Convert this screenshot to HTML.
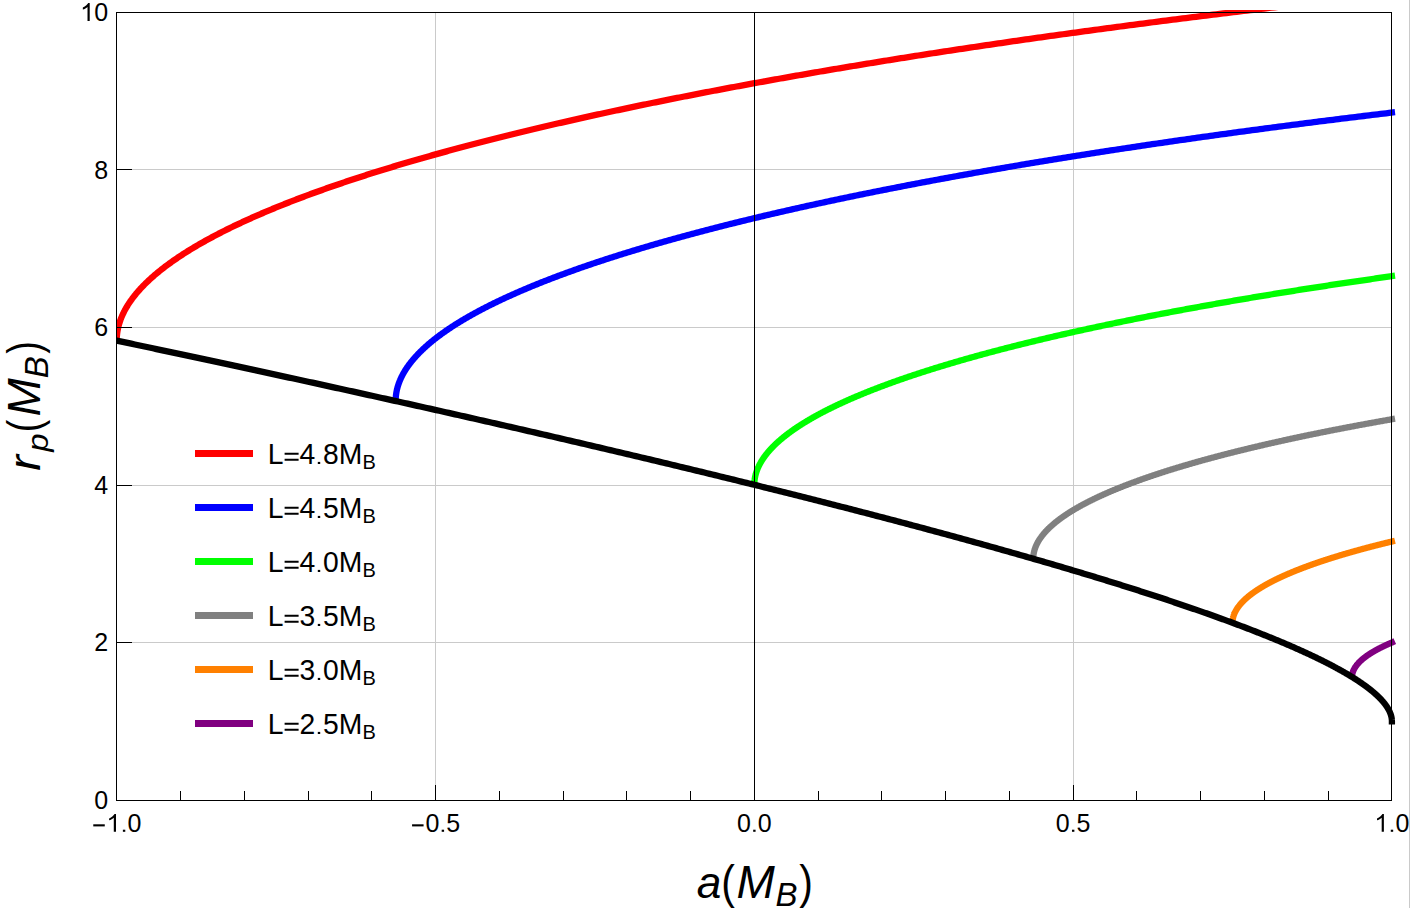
<!DOCTYPE html>
<html><head><meta charset="utf-8"><style>
html,body{margin:0;padding:0;background:#fff;}
body{width:1410px;height:908px;overflow:hidden;position:relative;}
svg{position:absolute;left:0;top:0;}
text{font-family:"Liberation Sans",sans-serif;fill:#000;}
#edge{position:absolute;left:1409px;top:0;width:1px;height:908px;background:#cacaca;}
</style></head><body>
<svg width="1410" height="908" viewBox="0 0 1410 908">
<rect x="117" y="169" width="1274" height="1" fill="#cacaca"/>
<rect x="117" y="327" width="1274" height="1" fill="#cacaca"/>
<rect x="117" y="485" width="1274" height="1" fill="#cacaca"/>
<rect x="117" y="642" width="1274" height="1" fill="#cacaca"/>
<rect x="435" y="13" width="1" height="787" fill="#cacaca"/>
<rect x="1073" y="13" width="1" height="787" fill="#cacaca"/>
<defs><clipPath id="c"><rect x="116" y="10" width="1300" height="900"/></clipPath></defs>
<g clip-path="url(#c)" fill="none" stroke-width="6.3" stroke-linejoin="round" stroke-linecap="square">
<path d="M116.75,338.13 L116.76,338.07 L116.77,337.9 L116.78,337.64 L116.8,337.31 L116.82,336.93 L116.85,336.52 L116.88,336.07 L116.92,335.61 L116.97,335.13 L117.02,334.64 L117.07,334.14 L117.13,333.64 L117.19,333.13 L117.27,332.61 L117.34,332.1 L117.42,331.57 L117.51,331.05 L117.6,330.53 L117.69,330 L117.8,329.47 L117.9,328.94 L118.01,328.41 L118.13,327.87 L118.25,327.34 L118.38,326.81 L118.51,326.27 L118.65,325.73 L118.8,325.2 L118.94,324.66 L119.1,324.12 L119.26,323.59 L119.42,323.05 L119.59,322.51 L119.76,321.97 L119.94,321.43 L120.13,320.89 L120.32,320.36 L120.51,319.82 L120.71,319.28 L120.92,318.74 L121.13,318.2 L121.35,317.66 L121.57,317.12 L121.79,316.58 L122.02,316.04 L122.26,315.5 L122.5,314.95 L122.75,314.41 L123,313.87 L123.26,313.33 L123.52,312.79 L123.79,312.25 L124.06,311.71 L124.34,311.17 L124.63,310.63 L124.92,310.09 L125.21,309.54 L125.51,309 L125.81,308.46 L126.12,307.92 L126.44,307.38 L126.76,306.84 L127.08,306.3 L127.41,305.76 L127.75,305.21 L128.09,304.67 L128.44,304.13 L128.79,303.59 L129.14,303.05 L129.51,302.51 L129.87,301.97 L130.25,301.43 L130.62,300.88 L131.01,300.34 L131.39,299.8 L131.79,299.26 L132.18,298.72 L132.59,298.18 L133,297.64 L133.41,297.1 L133.83,296.55 L134.25,296.01 L134.68,295.47 L135.12,294.93 L135.56,294.39 L136,293.85 L136.45,293.31 L136.91,292.77 L137.37,292.23 L137.83,291.69 L138.3,291.14 L138.78,290.6 L139.26,290.06 L139.75,289.52 L140.24,288.98 L140.74,288.44 L141.24,287.9 L141.75,287.36 L142.26,286.82 L142.78,286.28 L143.3,285.74 L143.83,285.2 L144.36,284.66 L144.9,284.12 L145.45,283.58 L145.99,283.04 L146.55,282.5 L147.11,281.96 L147.67,281.42 L148.24,280.88 L148.82,280.34 L149.4,279.8 L149.98,279.26 L150.57,278.72 L151.17,278.18 L151.77,277.64 L152.38,277.1 L152.99,276.56 L153.61,276.02 L154.23,275.48 L154.86,274.94 L155.49,274.4 L156.13,273.86 L156.77,273.32 L157.42,272.78 L158.07,272.25 L158.73,271.71 L159.39,271.17 L160.06,270.63 L160.73,270.09 L161.41,269.55 L162.1,269.01 L162.79,268.47 L163.48,267.94 L164.18,267.4 L164.89,266.86 L165.6,266.32 L166.31,265.78 L167.03,265.24 L167.76,264.71 L168.49,264.17 L169.23,263.63 L169.97,263.09 L170.72,262.56 L171.47,262.02 L172.23,261.48 L172.99,260.94 L173.76,260.41 L174.53,259.87 L175.31,259.33 L176.09,258.79 L176.88,258.26 L177.67,257.72 L178.47,257.18 L179.28,256.65 L180.09,256.11 L180.9,255.57 L181.72,255.04 L182.54,254.5 L183.37,253.96 L184.21,253.43 L185.05,252.89 L185.9,252.36 L186.75,251.82 L187.6,251.28 L188.46,250.75 L189.33,250.21 L190.2,249.68 L191.08,249.14 L191.96,248.61 L192.85,248.07 L193.74,247.53 L194.64,247 L195.54,246.46 L196.45,245.93 L197.36,245.39 L198.28,244.86 L199.21,244.33 L200.14,243.79 L201.07,243.26 L202.01,242.72 L202.95,242.19 L203.9,241.65 L204.86,241.12 L205.82,240.59 L206.79,240.05 L207.76,239.52 L208.73,238.98 L209.71,238.45 L210.7,237.92 L211.69,237.38 L212.69,236.85 L213.69,236.32 L214.7,235.79 L215.71,235.25 L216.73,234.72 L217.75,234.19 L218.78,233.65 L219.81,233.12 L220.85,232.59 L221.89,232.06 L222.94,231.53 L223.99,230.99 L225.05,230.46 L226.12,229.93 L227.19,229.4 L228.26,228.87 L229.34,228.34 L230.43,227.8 L231.52,227.27 L232.61,226.74 L233.71,226.21 L234.82,225.68 L235.93,225.15 L237.05,224.62 L238.17,224.09 L239.3,223.56 L240.43,223.03 L241.57,222.5 L242.71,221.97 L243.86,221.44 L245.01,220.91 L246.17,220.38 L247.33,219.85 L248.5,219.32 L249.67,218.79 L250.85,218.26 L252.03,217.73 L253.22,217.21 L254.42,216.68 L255.62,216.15 L256.82,215.62 L258.03,215.09 L259.25,214.56 L260.47,214.04 L261.69,213.51 L262.93,212.98 L264.16,212.45 L265.4,211.93 L266.65,211.4 L267.9,210.87 L269.16,210.34 L270.42,209.82 L271.69,209.29 L272.96,208.76 L274.24,208.24 L275.52,207.71 L276.81,207.19 L278.1,206.66 L279.4,206.13 L280.7,205.61 L282.01,205.08 L283.33,204.56 L284.65,204.03 L285.97,203.51 L287.3,202.98 L288.64,202.46 L289.98,201.93 L291.32,201.41 L292.67,200.88 L294.03,200.36 L295.39,199.83 L296.76,199.31 L298.13,198.79 L299.5,198.26 L300.89,197.74 L302.27,197.22 L303.67,196.69 L305.06,196.17 L306.47,195.65 L307.87,195.13 L309.29,194.6 L310.7,194.08 L312.13,193.56 L313.56,193.04 L314.99,192.51 L316.43,191.99 L317.87,191.47 L319.32,190.95 L320.78,190.43 L322.24,189.91 L323.7,189.39 L325.17,188.87 L326.65,188.34 L328.13,187.82 L329.62,187.3 L331.11,186.78 L332.6,186.26 L334.1,185.74 L335.61,185.23 L337.12,184.71 L338.64,184.19 L340.16,183.67 L341.69,183.15 L343.22,182.63 L344.76,182.11 L346.3,181.59 L347.85,181.07 L349.41,180.56 L350.97,180.04 L352.53,179.52 L354.1,179 L355.67,178.49 L357.25,177.97 L358.84,177.45 L360.43,176.94 L362.02,176.42 L363.62,175.9 L365.23,175.39 L366.84,174.87 L368.46,174.35 L370.08,173.84 L371.7,173.32 L373.33,172.81 L374.97,172.29 L376.61,171.78 L378.26,171.26 L379.91,170.75 L381.57,170.23 L383.23,169.72 L384.9,169.21 L386.58,168.69 L388.25,168.18 L389.94,167.66 L391.63,167.15 L393.32,166.64 L395.02,166.13 L396.72,165.61 L398.43,165.1 L400.15,164.59 L401.87,164.08 L403.59,163.56 L405.33,163.05 L407.06,162.54 L408.8,162.03 L410.55,161.52 L412.3,161.01 L414.06,160.5 L415.82,159.99 L417.59,159.48 L419.36,158.97 L421.13,158.46 L422.92,157.95 L424.71,157.44 L426.5,156.93 L428.3,156.42 L430.1,155.91 L431.91,155.4 L433.72,154.89 L435.54,154.38 L437.37,153.88 L439.19,153.37 L441.03,152.86 L442.87,152.35 L444.71,151.85 L446.56,151.34 L448.42,150.83 L450.28,150.32 L452.15,149.82 L454.02,149.31 L455.89,148.81 L457.78,148.3 L459.66,147.79 L461.55,147.29 L463.45,146.78 L465.35,146.28 L467.26,145.77 L469.17,145.27 L471.09,144.77 L473.01,144.26 L474.94,143.76 L476.88,143.25 L478.82,142.75 L480.76,142.25 L482.71,141.75 L484.66,141.24 L486.62,140.74 L488.59,140.24 L490.56,139.74 L492.53,139.23 L494.51,138.73 L496.5,138.23 L498.49,137.73 L500.49,137.23 L502.49,136.73 L504.49,136.23 L506.5,135.73 L508.52,135.23 L510.54,134.73 L512.57,134.23 L514.6,133.73 L516.64,133.23 L518.68,132.73 L520.73,132.23 L522.78,131.73 L524.84,131.24 L526.91,130.74 L528.98,130.24 L531.05,129.74 L533.13,129.25 L535.21,128.75 L537.3,128.25 L539.4,127.76 L541.5,127.26 L543.6,126.76 L545.71,126.27 L547.83,125.77 L549.95,125.28 L552.08,124.78 L554.21,124.29 L556.34,123.79 L558.49,123.3 L560.63,122.81 L562.79,122.31 L564.94,121.82 L567.1,121.33 L569.27,120.83 L571.45,120.34 L573.62,119.85 L575.81,119.35 L578,118.86 L580.19,118.37 L582.39,117.88 L584.59,117.39 L586.8,116.9 L589.02,116.41 L591.24,115.92 L593.46,115.43 L595.69,114.94 L597.93,114.45 L600.17,113.96 L602.41,113.47 L604.66,112.98 L606.92,112.49 L609.18,112 L611.45,111.51 L613.72,111.03 L616,110.54 L618.28,110.05 L620.57,109.56 L622.86,109.08 L625.16,108.59 L627.46,108.1 L629.77,107.62 L632.08,107.13 L634.4,106.65 L636.73,106.16 L639.05,105.68 L641.39,105.19 L643.73,104.71 L646.07,104.22 L648.42,103.74 L650.78,103.26 L653.14,102.77 L655.5,102.29 L657.87,101.81 L660.25,101.33 L662.63,100.84 L665.02,100.36 L667.41,99.88 L669.81,99.4 L672.21,98.92 L674.62,98.44 L677.03,97.96 L679.45,97.48 L681.87,97 L684.3,96.52 L686.73,96.04 L689.17,95.56 L691.61,95.08 L694.06,94.6 L696.51,94.12 L698.97,93.65 L701.44,93.17 L703.91,92.69 L706.38,92.21 L708.86,91.74 L711.35,91.26 L713.84,90.78 L716.33,90.31 L718.83,89.83 L721.34,89.36 L723.85,88.88 L726.37,88.41 L728.89,87.93 L731.42,87.46 L733.95,86.99 L736.49,86.51 L739.03,86.04 L741.58,85.57 L744.13,85.09 L746.69,84.62 L749.25,84.15 L751.82,83.68 L754.39,83.21 L756.97,82.74 L759.56,82.27 L762.14,81.79 L764.74,81.32 L767.34,80.85 L769.94,80.39 L772.55,79.92 L775.17,79.45 L777.79,78.98 L780.42,78.51 L783.05,78.04 L785.68,77.57 L788.32,77.11 L790.97,76.64 L793.62,76.17 L796.28,75.71 L798.94,75.24 L801.61,74.78 L804.28,74.31 L806.96,73.85 L809.64,73.38 L812.33,72.92 L815.02,72.45 L817.72,71.99 L820.43,71.52 L823.14,71.06 L825.85,70.6 L828.57,70.14 L831.29,69.67 L834.02,69.21 L836.76,68.75 L839.5,68.29 L842.24,67.83 L845,67.37 L847.75,66.91 L850.51,66.45 L853.28,65.99 L856.05,65.53 L858.83,65.07 L861.61,64.61 L864.4,64.15 L867.19,63.69 L869.99,63.24 L872.79,62.78 L875.6,62.32 L878.41,61.87 L881.23,61.41 L884.05,60.95 L886.88,60.5 L889.71,60.04 L892.55,59.59 L895.4,59.13 L898.25,58.68 L901.1,58.23 L903.96,57.77 L906.83,57.32 L909.7,56.87 L912.57,56.41 L915.45,55.96 L918.34,55.51 L921.23,55.06 L924.13,54.61 L927.03,54.16 L929.94,53.71 L932.85,53.26 L935.77,52.81 L938.69,52.36 L941.62,51.91 L944.55,51.46 L947.49,51.01 L950.43,50.56 L953.38,50.12 L956.33,49.67 L959.29,49.22 L962.25,48.78 L965.22,48.33 L968.2,47.88 L971.18,47.44 L974.16,46.99 L977.15,46.55 L980.15,46.11 L983.15,45.66 L986.15,45.22 L989.16,44.77 L992.18,44.33 L995.2,43.89 L998.23,43.45 L1001.26,43.01 L1004.3,42.56 L1007.34,42.12 L1010.39,41.68 L1013.44,41.24 L1016.5,40.8 L1019.56,40.36 L1022.63,39.92 L1025.7,39.49 L1028.78,39.05 L1031.86,38.61 L1034.95,38.17 L1038.05,37.73 L1041.15,37.3 L1044.25,36.86 L1047.36,36.42 L1050.48,35.99 L1053.6,35.55 L1056.72,35.12 L1059.85,34.68 L1062.99,34.25 L1066.13,33.82 L1069.28,33.38 L1072.43,32.95 L1075.58,32.52 L1078.75,32.09 L1081.91,31.65 L1085.08,31.22 L1088.26,30.79 L1091.44,30.36 L1094.63,29.93 L1097.83,29.5 L1101.02,29.07 L1104.23,28.64 L1107.44,28.21 L1110.65,27.79 L1113.87,27.36 L1117.09,26.93 L1120.32,26.5 L1123.56,26.08 L1126.8,25.65 L1130.04,25.22 L1133.29,24.8 L1136.55,24.37 L1139.81,23.95 L1143.07,23.52 L1146.35,23.1 L1149.62,22.68 L1152.9,22.25 L1156.19,21.83 L1159.48,21.41 L1162.78,20.99 L1166.08,20.57 L1169.39,20.15 L1172.7,19.73 L1176.02,19.31 L1179.34,18.89 L1182.67,18.47 L1186.01,18.05 L1189.34,17.63 L1192.69,17.21 L1196.04,16.79 L1199.39,16.38 L1202.75,15.96 L1206.12,15.54 L1209.49,15.13 L1212.86,14.71 L1216.24,14.3 L1219.63,13.88 L1223.02,13.47 L1226.41,13.05 L1229.82,12.64 L1233.22,12.23 L1236.63,11.82 L1240.05,11.4 L1243.47,10.99 L1246.9,10.58 L1250.33,10.17 L1253.77,9.76 L1257.21,9.35 L1260.66,8.94 L1264.11,8.53 L1267.57,8.12 L1271.04,7.71 L1274.51,7.31 L1277.98,6.9 L1281.46,6.49 L1284.94,6.09 L1288.43,5.68 L1291.93,5.27 L1295.43,4.87 L1298.93,4.46 L1302.44,4.06 L1305.96,3.66 L1309.48,3.25 L1313.01,2.85 L1316.54,2.45 L1320.08,2.05 L1323.62,1.64 L1327.16,1.24 L1330.72,0.84 L1334.27,0.44 L1337.84,0.04 L1341.4,-0.36 L1344.98,-0.75 L1348.56,-1.15 L1352.14,-1.55 L1355.73,-1.95 L1359.32,-2.35 L1362.92,-2.74 L1366.52,-3.14 L1370.13,-3.53 L1373.75,-3.93 L1377.37,-4.32 L1380.99,-4.72 L1384.62,-5.11 L1388.26,-5.5 L1391.9,-5.9" stroke="#ff0000"/>
<path d="M395.71,398.52 L395.72,398.48 L395.72,398.37 L395.73,398.18 L395.75,397.95 L395.76,397.67 L395.79,397.35 L395.81,397.01 L395.84,396.65 L395.88,396.28 L395.92,395.89 L395.96,395.5 L396.01,395.09 L396.06,394.68 L396.11,394.27 L396.17,393.85 L396.23,393.43 L396.3,393.01 L396.37,392.58 L396.45,392.15 L396.53,391.72 L396.61,391.29 L396.7,390.85 L396.79,390.42 L396.88,389.98 L396.98,389.55 L397.09,389.11 L397.2,388.67 L397.31,388.23 L397.42,387.79 L397.54,387.35 L397.67,386.91 L397.8,386.47 L397.93,386.03 L398.06,385.59 L398.2,385.15 L398.35,384.7 L398.5,384.26 L398.65,383.82 L398.81,383.38 L398.97,382.93 L399.13,382.49 L399.3,382.05 L399.47,381.6 L399.65,381.16 L399.83,380.71 L400.02,380.27 L400.2,379.82 L400.4,379.38 L400.59,378.94 L400.8,378.49 L401,378.05 L401.21,377.6 L401.42,377.16 L401.64,376.71 L401.86,376.27 L402.09,375.82 L402.32,375.38 L402.55,374.93 L402.79,374.49 L403.03,374.04 L403.28,373.59 L403.53,373.15 L403.78,372.7 L404.04,372.26 L404.3,371.81 L404.57,371.37 L404.84,370.92 L405.11,370.48 L405.39,370.03 L405.68,369.59 L405.96,369.14 L406.25,368.69 L406.55,368.25 L406.85,367.8 L407.15,367.36 L407.46,366.91 L407.77,366.47 L408.08,366.02 L408.4,365.58 L408.72,365.13 L409.05,364.68 L409.38,364.24 L409.72,363.79 L410.06,363.35 L410.4,362.9 L410.75,362.46 L411.1,362.01 L411.46,361.57 L411.82,361.12 L412.18,360.67 L412.55,360.23 L412.92,359.78 L413.3,359.34 L413.68,358.89 L414.06,358.45 L414.45,358 L414.84,357.56 L415.24,357.11 L415.64,356.67 L416.04,356.22 L416.45,355.78 L416.86,355.33 L417.28,354.89 L417.7,354.44 L418.13,354 L418.56,353.55 L418.99,353.11 L419.43,352.66 L419.87,352.22 L420.31,351.77 L420.76,351.33 L421.22,350.88 L421.67,350.44 L422.13,349.99 L422.6,349.55 L423.07,349.1 L423.54,348.66 L424.02,348.21 L424.5,347.77 L424.99,347.32 L425.48,346.88 L425.97,346.43 L426.47,345.99 L426.97,345.55 L427.48,345.1 L427.99,344.66 L428.5,344.21 L429.02,343.77 L429.55,343.33 L430.07,342.88 L430.6,342.44 L431.14,341.99 L431.68,341.55 L432.22,341.11 L432.77,340.66 L433.32,340.22 L433.87,339.77 L434.43,339.33 L434.99,338.89 L435.56,338.44 L436.13,338 L436.71,337.56 L437.29,337.11 L437.87,336.67 L438.46,336.23 L439.05,335.78 L439.65,335.34 L440.24,334.9 L440.85,334.45 L441.46,334.01 L442.07,333.57 L442.68,333.13 L443.3,332.68 L443.93,332.24 L444.56,331.8 L445.19,331.35 L445.83,330.91 L446.47,330.47 L447.11,330.03 L447.76,329.59 L448.41,329.14 L449.07,328.7 L449.73,328.26 L450.39,327.82 L451.06,327.37 L451.74,326.93 L452.41,326.49 L453.09,326.05 L453.78,325.61 L454.47,325.17 L455.16,324.72 L455.86,324.28 L456.56,323.84 L457.27,323.4 L457.97,322.96 L458.69,322.52 L459.41,322.08 L460.13,321.63 L460.85,321.19 L461.58,320.75 L462.32,320.31 L463.06,319.87 L463.8,319.43 L464.54,318.99 L465.29,318.55 L466.05,318.11 L466.81,317.67 L467.57,317.23 L468.34,316.79 L469.11,316.35 L469.88,315.91 L470.66,315.47 L471.44,315.03 L472.23,314.59 L473.02,314.15 L473.81,313.71 L474.61,313.27 L475.42,312.83 L476.22,312.39 L477.03,311.95 L477.85,311.51 L478.67,311.07 L479.49,310.63 L480.32,310.19 L481.15,309.75 L481.99,309.32 L482.83,308.88 L483.67,308.44 L484.52,308 L485.37,307.56 L486.23,307.12 L487.09,306.68 L487.95,306.25 L488.82,305.81 L489.69,305.37 L490.57,304.93 L491.45,304.49 L492.33,304.06 L493.22,303.62 L494.11,303.18 L495.01,302.74 L495.91,302.31 L496.81,301.87 L497.72,301.43 L498.64,300.99 L499.55,300.56 L500.47,300.12 L501.4,299.68 L502.33,299.25 L503.26,298.81 L504.2,298.37 L505.14,297.94 L506.08,297.5 L507.03,297.06 L507.99,296.63 L508.95,296.19 L509.91,295.76 L510.87,295.32 L511.84,294.88 L512.82,294.45 L513.79,294.01 L514.78,293.58 L515.76,293.14 L516.75,292.71 L517.75,292.27 L518.74,291.84 L519.75,291.4 L520.75,290.97 L521.76,290.53 L522.78,290.1 L523.8,289.66 L524.82,289.23 L525.85,288.79 L526.88,288.36 L527.91,287.93 L528.95,287.49 L529.99,287.06 L531.04,286.62 L532.09,286.19 L533.15,285.76 L534.21,285.32 L535.27,284.89 L536.34,284.46 L537.41,284.02 L538.48,283.59 L539.56,283.16 L540.65,282.73 L541.73,282.29 L542.83,281.86 L543.92,281.43 L545.02,281 L546.13,280.56 L547.23,280.13 L548.35,279.7 L549.46,279.27 L550.58,278.84 L551.71,278.4 L552.83,277.97 L553.97,277.54 L555.1,277.11 L556.24,276.68 L557.39,276.25 L558.54,275.82 L559.69,275.39 L560.85,274.96 L562.01,274.53 L563.17,274.1 L564.34,273.67 L565.51,273.24 L566.69,272.81 L567.87,272.38 L569.06,271.95 L570.25,271.52 L571.44,271.09 L572.64,270.66 L573.84,270.23 L575.05,269.8 L576.25,269.37 L577.47,268.94 L578.69,268.51 L579.91,268.08 L581.13,267.65 L582.36,267.23 L583.6,266.8 L584.84,266.37 L586.08,265.94 L587.32,265.51 L588.58,265.09 L589.83,264.66 L591.09,264.23 L592.35,263.8 L593.62,263.38 L594.89,262.95 L596.16,262.52 L597.44,262.1 L598.72,261.67 L600.01,261.24 L601.3,260.82 L602.6,260.39 L603.9,259.97 L605.2,259.54 L606.51,259.11 L607.82,258.69 L609.13,258.26 L610.45,257.84 L611.78,257.41 L613.1,256.99 L614.44,256.56 L615.77,256.14 L617.11,255.71 L618.45,255.29 L619.8,254.86 L621.15,254.44 L622.51,254.02 L623.87,253.59 L625.23,253.17 L626.6,252.74 L627.98,252.32 L629.35,251.9 L630.73,251.47 L632.12,251.05 L633.51,250.63 L634.9,250.21 L636.29,249.78 L637.7,249.36 L639.1,248.94 L640.51,248.52 L641.92,248.09 L643.34,247.67 L644.76,247.25 L646.19,246.83 L647.61,246.41 L649.05,245.99 L650.49,245.57 L651.93,245.14 L653.37,244.72 L654.82,244.3 L656.28,243.88 L657.73,243.46 L659.19,243.04 L660.66,242.62 L662.13,242.2 L663.6,241.78 L665.08,241.36 L666.56,240.94 L668.05,240.52 L669.54,240.11 L671.03,239.69 L672.53,239.27 L674.04,238.85 L675.54,238.43 L677.05,238.01 L678.57,237.59 L680.09,237.18 L681.61,236.76 L683.14,236.34 L684.67,235.92 L686.2,235.51 L687.74,235.09 L689.28,234.67 L690.83,234.26 L692.38,233.84 L693.94,233.42 L695.5,233.01 L697.06,232.59 L698.63,232.18 L700.2,231.76 L701.77,231.34 L703.35,230.93 L704.94,230.51 L706.53,230.1 L708.12,229.68 L709.71,229.27 L711.31,228.85 L712.92,228.44 L714.53,228.03 L716.14,227.61 L717.75,227.2 L719.37,226.78 L721,226.37 L722.63,225.96 L724.26,225.54 L725.9,225.13 L727.54,224.72 L729.18,224.31 L730.83,223.89 L732.48,223.48 L734.14,223.07 L735.8,222.66 L737.47,222.25 L739.14,221.83 L740.81,221.42 L742.49,221.01 L744.17,220.6 L745.85,220.19 L747.54,219.78 L749.24,219.37 L750.93,218.96 L752.63,218.55 L754.34,218.14 L756.05,217.73 L757.76,217.32 L759.48,216.91 L761.2,216.5 L762.93,216.09 L764.66,215.68 L766.39,215.28 L768.13,214.87 L769.87,214.46 L771.62,214.05 L773.37,213.64 L775.13,213.24 L776.88,212.83 L778.65,212.42 L780.41,212.01 L782.18,211.61 L783.96,211.2 L785.74,210.79 L787.52,210.39 L789.31,209.98 L791.1,209.58 L792.89,209.17 L794.69,208.77 L796.5,208.36 L798.3,207.96 L800.12,207.55 L801.93,207.15 L803.75,206.74 L805.58,206.34 L807.4,205.93 L809.23,205.53 L811.07,205.13 L812.91,204.72 L814.75,204.32 L816.6,203.92 L818.45,203.51 L820.31,203.11 L822.17,202.71 L824.03,202.31 L825.9,201.9 L827.78,201.5 L829.65,201.1 L831.53,200.7 L833.42,200.3 L835.31,199.9 L837.2,199.5 L839.1,199.1 L841,198.7 L842.9,198.3 L844.81,197.9 L846.72,197.5 L848.64,197.1 L850.56,196.7 L852.49,196.3 L854.42,195.9 L856.35,195.5 L858.29,195.1 L860.23,194.7 L862.17,194.31 L864.12,193.91 L866.08,193.51 L868.04,193.11 L870,192.72 L871.96,192.32 L873.93,191.92 L875.91,191.53 L877.89,191.13 L879.87,190.73 L881.85,190.34 L883.84,189.94 L885.84,189.55 L887.84,189.15 L889.84,188.76 L891.85,188.36 L893.86,187.97 L895.87,187.57 L897.89,187.18 L899.91,186.79 L901.94,186.39 L903.97,186 L906.01,185.61 L908.05,185.21 L910.09,184.82 L912.14,184.43 L914.19,184.04 L916.24,183.64 L918.3,183.25 L920.37,182.86 L922.43,182.47 L924.51,182.08 L926.58,181.69 L928.66,181.3 L930.74,180.91 L932.83,180.52 L934.92,180.13 L937.02,179.74 L939.12,179.35 L941.23,178.96 L943.33,178.57 L945.45,178.18 L947.56,177.79 L949.68,177.4 L951.81,177.02 L953.94,176.63 L956.07,176.24 L958.21,175.85 L960.35,175.47 L962.49,175.08 L964.64,174.69 L966.79,174.31 L968.95,173.92 L971.11,173.53 L973.28,173.15 L975.45,172.76 L977.62,172.38 L979.8,171.99 L981.98,171.61 L984.16,171.22 L986.35,170.84 L988.55,170.46 L990.74,170.07 L992.95,169.69 L995.15,169.31 L997.36,168.92 L999.58,168.54 L1001.79,168.16 L1004.02,167.78 L1006.24,167.39 L1008.47,167.01 L1010.71,166.63 L1012.94,166.25 L1015.19,165.87 L1017.43,165.49 L1019.68,165.11 L1021.94,164.73 L1024.2,164.35 L1026.46,163.97 L1028.73,163.59 L1031,163.21 L1033.27,162.83 L1035.55,162.45 L1037.83,162.07 L1040.12,161.7 L1042.41,161.32 L1044.71,160.94 L1047.01,160.56 L1049.31,160.19 L1051.62,159.81 L1053.93,159.43 L1056.25,159.06 L1058.57,158.68 L1060.89,158.31 L1063.22,157.93 L1065.55,157.56 L1067.89,157.18 L1070.23,156.81 L1072.57,156.43 L1074.92,156.06 L1077.27,155.68 L1079.63,155.31 L1081.99,154.94 L1084.35,154.56 L1086.72,154.19 L1089.09,153.82 L1091.47,153.45 L1093.85,153.07 L1096.23,152.7 L1098.62,152.33 L1101.02,151.96 L1103.41,151.59 L1105.81,151.22 L1108.22,150.85 L1110.63,150.48 L1113.04,150.11 L1115.46,149.74 L1117.88,149.37 L1120.3,149 L1122.73,148.63 L1125.17,148.26 L1127.61,147.9 L1130.05,147.53 L1132.49,147.16 L1134.94,146.79 L1137.4,146.43 L1139.85,146.06 L1142.32,145.69 L1144.78,145.33 L1147.25,144.96 L1149.73,144.6 L1152.21,144.23 L1154.69,143.87 L1157.17,143.5 L1159.66,143.14 L1162.16,142.77 L1164.66,142.41 L1167.16,142.05 L1169.67,141.68 L1172.18,141.32 L1174.69,140.96 L1177.21,140.6 L1179.73,140.23 L1182.26,139.87 L1184.79,139.51 L1187.33,139.15 L1189.87,138.79 L1192.41,138.43 L1194.96,138.07 L1197.51,137.71 L1200.06,137.35 L1202.62,136.99 L1205.19,136.63 L1207.76,136.27 L1210.33,135.91 L1212.9,135.55 L1215.48,135.2 L1218.07,134.84 L1220.66,134.48 L1223.25,134.12 L1225.84,133.77 L1228.44,133.41 L1231.05,133.06 L1233.66,132.7 L1236.27,132.34 L1238.89,131.99 L1241.51,131.63 L1244.13,131.28 L1246.76,130.93 L1249.39,130.57 L1252.03,130.22 L1254.67,129.87 L1257.32,129.51 L1259.96,129.16 L1262.62,128.81 L1265.27,128.46 L1267.94,128.1 L1270.6,127.75 L1273.27,127.4 L1275.94,127.05 L1278.62,126.7 L1281.3,126.35 L1283.99,126 L1286.68,125.65 L1289.37,125.3 L1292.07,124.95 L1294.77,124.6 L1297.48,124.26 L1300.19,123.91 L1302.9,123.56 L1305.62,123.21 L1308.34,122.87 L1311.07,122.52 L1313.8,122.17 L1316.53,121.83 L1319.27,121.48 L1322.01,121.14 L1324.76,120.79 L1327.51,120.45 L1330.27,120.1 L1333.03,119.76 L1335.79,119.41 L1338.56,119.07 L1341.33,118.73 L1344.1,118.39 L1346.88,118.04 L1349.66,117.7 L1352.45,117.36 L1355.24,117.02 L1358.04,116.68 L1360.84,116.34 L1363.64,116 L1366.45,115.66 L1369.26,115.32 L1372.08,114.98 L1374.9,114.64 L1377.72,114.3 L1380.55,113.96 L1383.38,113.62 L1386.22,113.29 L1389.06,112.95 L1391.9,112.61" stroke="#0000ff"/>
<path d="M754.38,482.3 L754.38,482.28 L754.39,482.22 L754.39,482.12 L754.4,481.99 L754.41,481.84 L754.43,481.65 L754.44,481.45 L754.46,481.23 L754.49,481 L754.51,480.75 L754.54,480.5 L754.57,480.23 L754.6,479.96 L754.64,479.69 L754.67,479.41 L754.71,479.12 L754.76,478.84 L754.8,478.54 L754.85,478.25 L754.9,477.96 L754.95,477.66 L755.01,477.36 L755.07,477.06 L755.13,476.76 L755.19,476.45 L755.26,476.15 L755.33,475.84 L755.4,475.54 L755.47,475.23 L755.55,474.92 L755.63,474.61 L755.71,474.3 L755.8,474 L755.88,473.69 L755.97,473.37 L756.07,473.06 L756.16,472.75 L756.26,472.44 L756.36,472.13 L756.46,471.82 L756.57,471.5 L756.68,471.19 L756.79,470.88 L756.9,470.56 L757.01,470.25 L757.13,469.94 L757.25,469.62 L757.38,469.31 L757.5,469 L757.63,468.68 L757.76,468.37 L757.9,468.05 L758.03,467.74 L758.17,467.42 L758.32,467.11 L758.46,466.79 L758.61,466.48 L758.76,466.16 L758.91,465.85 L759.06,465.53 L759.22,465.22 L759.38,464.9 L759.54,464.58 L759.71,464.27 L759.88,463.95 L760.05,463.64 L760.22,463.32 L760.4,463.01 L760.57,462.69 L760.76,462.37 L760.94,462.06 L761.12,461.74 L761.31,461.43 L761.5,461.11 L761.7,460.79 L761.9,460.48 L762.09,460.16 L762.3,459.84 L762.5,459.53 L762.71,459.21 L762.92,458.9 L763.13,458.58 L763.34,458.26 L763.56,457.95 L763.78,457.63 L764,457.31 L764.23,457 L764.46,456.68 L764.69,456.37 L764.92,456.05 L765.15,455.73 L765.39,455.42 L765.63,455.1 L765.88,454.78 L766.12,454.47 L766.37,454.15 L766.62,453.83 L766.88,453.52 L767.13,453.2 L767.39,452.88 L767.65,452.57 L767.92,452.25 L768.18,451.94 L768.45,451.62 L768.72,451.3 L769,450.99 L769.28,450.67 L769.56,450.35 L769.84,450.04 L770.12,449.72 L770.41,449.41 L770.7,449.09 L770.99,448.77 L771.29,448.46 L771.59,448.14 L771.89,447.82 L772.19,447.51 L772.5,447.19 L772.8,446.88 L773.12,446.56 L773.43,446.24 L773.75,445.93 L774.06,445.61 L774.39,445.29 L774.71,444.98 L775.04,444.66 L775.36,444.35 L775.7,444.03 L776.03,443.71 L776.37,443.4 L776.71,443.08 L777.05,442.77 L777.39,442.45 L777.74,442.14 L778.09,441.82 L778.44,441.5 L778.8,441.19 L779.16,440.87 L779.52,440.56 L779.88,440.24 L780.25,439.92 L780.61,439.61 L780.99,439.29 L781.36,438.98 L781.73,438.66 L782.11,438.35 L782.49,438.03 L782.88,437.72 L783.26,437.4 L783.65,437.09 L784.05,436.77 L784.44,436.45 L784.84,436.14 L785.24,435.82 L785.64,435.51 L786.04,435.19 L786.45,434.88 L786.86,434.56 L787.27,434.25 L787.69,433.93 L788.1,433.62 L788.53,433.3 L788.95,432.99 L789.37,432.67 L789.8,432.36 L790.23,432.04 L790.67,431.73 L791.1,431.41 L791.54,431.1 L791.98,430.78 L792.42,430.47 L792.87,430.15 L793.32,429.84 L793.77,429.53 L794.23,429.21 L794.68,428.9 L795.14,428.58 L795.6,428.27 L796.07,427.95 L796.53,427.64 L797,427.32 L797.48,427.01 L797.95,426.7 L798.43,426.38 L798.91,426.07 L799.39,425.75 L799.88,425.44 L800.36,425.13 L800.86,424.81 L801.35,424.5 L801.84,424.18 L802.34,423.87 L802.84,423.56 L803.35,423.24 L803.85,422.93 L804.36,422.62 L804.87,422.3 L805.39,421.99 L805.9,421.67 L806.42,421.36 L806.94,421.05 L807.47,420.73 L808,420.42 L808.53,420.11 L809.06,419.79 L809.59,419.48 L810.13,419.17 L810.67,418.86 L811.21,418.54 L811.76,418.23 L812.3,417.92 L812.86,417.6 L813.41,417.29 L813.96,416.98 L814.52,416.67 L815.08,416.35 L815.65,416.04 L816.21,415.73 L816.78,415.41 L817.35,415.1 L817.93,414.79 L818.5,414.48 L819.08,414.17 L819.66,413.85 L820.25,413.54 L820.83,413.23 L821.42,412.92 L822.01,412.6 L822.61,412.29 L823.21,411.98 L823.81,411.67 L824.41,411.36 L825.01,411.04 L825.62,410.73 L826.23,410.42 L826.84,410.11 L827.46,409.8 L828.08,409.49 L828.7,409.18 L829.32,408.86 L829.95,408.55 L830.58,408.24 L831.21,407.93 L831.84,407.62 L832.48,407.31 L833.12,407 L833.76,406.69 L834.4,406.38 L835.05,406.06 L835.7,405.75 L836.35,405.44 L837,405.13 L837.66,404.82 L838.32,404.51 L838.98,404.2 L839.65,403.89 L840.31,403.58 L840.98,403.27 L841.66,402.96 L842.33,402.65 L843.01,402.34 L843.69,402.03 L844.37,401.72 L845.06,401.41 L845.75,401.1 L846.44,400.79 L847.13,400.48 L847.83,400.17 L848.53,399.86 L849.23,399.55 L849.93,399.24 L850.64,398.93 L851.35,398.62 L852.06,398.31 L852.77,398 L853.49,397.7 L854.21,397.39 L854.93,397.08 L855.66,396.77 L856.38,396.46 L857.11,396.15 L857.85,395.84 L858.58,395.53 L859.32,395.22 L860.06,394.92 L860.8,394.61 L861.55,394.3 L862.3,393.99 L863.05,393.68 L863.8,393.37 L864.56,393.07 L865.31,392.76 L866.07,392.45 L866.84,392.14 L867.6,391.84 L868.37,391.53 L869.15,391.22 L869.92,390.91 L870.7,390.6 L871.48,390.3 L872.26,389.99 L873.04,389.68 L873.83,389.38 L874.62,389.07 L875.41,388.76 L876.21,388.45 L877,388.15 L877.8,387.84 L878.61,387.53 L879.41,387.23 L880.22,386.92 L881.03,386.61 L881.84,386.31 L882.66,386 L883.48,385.69 L884.3,385.39 L885.12,385.08 L885.95,384.78 L886.78,384.47 L887.61,384.16 L888.44,383.86 L889.28,383.55 L890.12,383.25 L890.96,382.94 L891.8,382.64 L892.65,382.33 L893.5,382.03 L894.35,381.72 L895.21,381.41 L896.07,381.11 L896.93,380.8 L897.79,380.5 L898.65,380.2 L899.52,379.89 L900.39,379.59 L901.26,379.28 L902.14,378.98 L903.02,378.67 L903.9,378.37 L904.78,378.06 L905.67,377.76 L906.56,377.46 L907.45,377.15 L908.34,376.85 L909.24,376.54 L910.14,376.24 L911.04,375.94 L911.94,375.63 L912.85,375.33 L913.76,375.03 L914.67,374.72 L915.59,374.42 L916.5,374.12 L917.42,373.81 L918.35,373.51 L919.27,373.21 L920.2,372.9 L921.13,372.6 L922.06,372.3 L923,372 L923.94,371.69 L924.88,371.39 L925.82,371.09 L926.77,370.79 L927.71,370.48 L928.67,370.18 L929.62,369.88 L930.58,369.58 L931.53,369.28 L932.5,368.98 L933.46,368.67 L934.43,368.37 L935.4,368.07 L936.37,367.77 L937.34,367.47 L938.32,367.17 L939.3,366.87 L940.28,366.57 L941.27,366.27 L942.25,365.96 L943.24,365.66 L944.24,365.36 L945.23,365.06 L946.23,364.76 L947.23,364.46 L948.23,364.16 L949.24,363.86 L950.25,363.56 L951.26,363.26 L952.27,362.96 L953.29,362.66 L954.31,362.36 L955.33,362.06 L956.35,361.77 L957.38,361.47 L958.41,361.17 L959.44,360.87 L960.47,360.57 L961.51,360.27 L962.55,359.97 L963.59,359.67 L964.64,359.37 L965.68,359.08 L966.73,358.78 L967.79,358.48 L968.84,358.18 L969.9,357.88 L970.96,357.59 L972.02,357.29 L973.09,356.99 L974.16,356.69 L975.23,356.39 L976.3,356.1 L977.38,355.8 L978.46,355.5 L979.54,355.21 L980.62,354.91 L981.71,354.61 L982.8,354.32 L983.89,354.02 L984.98,353.72 L986.08,353.43 L987.18,353.13 L988.28,352.83 L989.38,352.54 L990.49,352.24 L991.6,351.95 L992.71,351.65 L993.83,351.35 L994.95,351.06 L996.07,350.76 L997.19,350.47 L998.31,350.17 L999.44,349.88 L1000.57,349.58 L1001.71,349.29 L1002.84,348.99 L1003.98,348.7 L1005.12,348.4 L1006.27,348.11 L1007.41,347.81 L1008.56,347.52 L1009.71,347.23 L1010.87,346.93 L1012.02,346.64 L1013.18,346.34 L1014.34,346.05 L1015.51,345.76 L1016.68,345.46 L1017.84,345.17 L1019.02,344.88 L1020.19,344.58 L1021.37,344.29 L1022.55,344 L1023.73,343.7 L1024.92,343.41 L1026.11,343.12 L1027.3,342.83 L1028.49,342.53 L1029.68,342.24 L1030.88,341.95 L1032.08,341.66 L1033.29,341.37 L1034.49,341.07 L1035.7,340.78 L1036.91,340.49 L1038.13,340.2 L1039.34,339.91 L1040.56,339.62 L1041.78,339.33 L1043.01,339.04 L1044.24,338.75 L1045.47,338.45 L1046.7,338.16 L1047.93,337.87 L1049.17,337.58 L1050.41,337.29 L1051.65,337 L1052.9,336.71 L1054.14,336.42 L1055.39,336.13 L1056.65,335.84 L1057.9,335.55 L1059.16,335.27 L1060.42,334.98 L1061.69,334.69 L1062.95,334.4 L1064.22,334.11 L1065.49,333.82 L1066.76,333.53 L1068.04,333.24 L1069.32,332.96 L1070.6,332.67 L1071.89,332.38 L1073.17,332.09 L1074.46,331.8 L1075.75,331.52 L1077.05,331.23 L1078.35,330.94 L1079.65,330.65 L1080.95,330.37 L1082.25,330.08 L1083.56,329.79 L1084.87,329.51 L1086.18,329.22 L1087.5,328.93 L1088.82,328.65 L1090.14,328.36 L1091.46,328.07 L1092.79,327.79 L1094.11,327.5 L1095.45,327.22 L1096.78,326.93 L1098.12,326.65 L1099.45,326.36 L1100.8,326.07 L1102.14,325.79 L1103.49,325.5 L1104.84,325.22 L1106.19,324.94 L1107.54,324.65 L1108.9,324.37 L1110.26,324.08 L1111.62,323.8 L1112.99,323.51 L1114.35,323.23 L1115.72,322.95 L1117.1,322.66 L1118.47,322.38 L1119.85,322.1 L1121.23,321.81 L1122.61,321.53 L1124,321.25 L1125.39,320.96 L1126.78,320.68 L1128.17,320.4 L1129.57,320.12 L1130.96,319.83 L1132.37,319.55 L1133.77,319.27 L1135.18,318.99 L1136.58,318.71 L1138,318.43 L1139.41,318.14 L1140.83,317.86 L1142.25,317.58 L1143.67,317.3 L1145.09,317.02 L1146.52,316.74 L1147.95,316.46 L1149.38,316.18 L1150.82,315.9 L1152.26,315.62 L1153.7,315.34 L1155.14,315.06 L1156.58,314.78 L1158.03,314.5 L1159.48,314.22 L1160.94,313.94 L1162.39,313.66 L1163.85,313.38 L1165.31,313.11 L1166.78,312.83 L1168.24,312.55 L1169.71,312.27 L1171.18,311.99 L1172.66,311.71 L1174.13,311.44 L1175.61,311.16 L1177.09,310.88 L1178.58,310.6 L1180.07,310.33 L1181.56,310.05 L1183.05,309.77 L1184.54,309.49 L1186.04,309.22 L1187.54,308.94 L1189.04,308.67 L1190.55,308.39 L1192.06,308.11 L1193.57,307.84 L1195.08,307.56 L1196.6,307.29 L1198.11,307.01 L1199.64,306.73 L1201.16,306.46 L1202.69,306.18 L1204.21,305.91 L1205.75,305.64 L1207.28,305.36 L1208.82,305.09 L1210.36,304.81 L1211.9,304.54 L1213.44,304.26 L1214.99,303.99 L1216.54,303.72 L1218.09,303.44 L1219.64,303.17 L1221.2,302.9 L1222.76,302.62 L1224.32,302.35 L1225.89,302.08 L1227.46,301.81 L1229.03,301.53 L1230.6,301.26 L1232.18,300.99 L1233.75,300.72 L1235.34,300.45 L1236.92,300.17 L1238.5,299.9 L1240.09,299.63 L1241.68,299.36 L1243.28,299.09 L1244.87,298.82 L1246.47,298.55 L1248.08,298.28 L1249.68,298.01 L1251.29,297.74 L1252.9,297.47 L1254.51,297.2 L1256.12,296.93 L1257.74,296.66 L1259.36,296.39 L1260.98,296.12 L1262.61,295.85 L1264.23,295.58 L1265.86,295.32 L1267.5,295.05 L1269.13,294.78 L1270.77,294.51 L1272.41,294.24 L1274.06,293.98 L1275.7,293.71 L1277.35,293.44 L1279,293.17 L1280.65,292.91 L1282.31,292.64 L1283.97,292.37 L1285.63,292.11 L1287.29,291.84 L1288.96,291.57 L1290.63,291.31 L1292.3,291.04 L1293.98,290.78 L1295.65,290.51 L1297.33,290.24 L1299.02,289.98 L1300.7,289.71 L1302.39,289.45 L1304.08,289.19 L1305.77,288.92 L1307.47,288.66 L1309.16,288.39 L1310.86,288.13 L1312.57,287.86 L1314.27,287.6 L1315.98,287.34 L1317.69,287.07 L1319.41,286.81 L1321.12,286.55 L1322.84,286.29 L1324.56,286.02 L1326.29,285.76 L1328.01,285.5 L1329.74,285.24 L1331.47,284.97 L1333.21,284.71 L1334.94,284.45 L1336.68,284.19 L1338.43,283.93 L1340.17,283.67 L1341.92,283.41 L1343.67,283.15 L1345.42,282.89 L1347.18,282.63 L1348.93,282.37 L1350.69,282.11 L1352.46,281.85 L1354.22,281.59 L1355.99,281.33 L1357.76,281.07 L1359.53,280.81 L1361.31,280.55 L1363.09,280.29 L1364.87,280.04 L1366.65,279.78 L1368.44,279.52 L1370.23,279.26 L1372.02,279 L1373.82,278.75 L1375.61,278.49 L1377.41,278.23 L1379.21,277.98 L1381.02,277.72 L1382.83,277.46 L1384.63,277.21 L1386.45,276.95 L1388.26,276.69 L1390.08,276.44 L1391.9,276.18" stroke="#00ff00"/>
<path d="M1033.35,556.22 L1033.36,556.21 L1033.36,556.19 L1033.36,556.14 L1033.37,556.09 L1033.37,556.01 L1033.38,555.92 L1033.39,555.83 L1033.4,555.71 L1033.41,555.59 L1033.43,555.46 L1033.44,555.33 L1033.46,555.18 L1033.48,555.03 L1033.5,554.87 L1033.52,554.71 L1033.54,554.55 L1033.57,554.38 L1033.59,554.2 L1033.62,554.03 L1033.65,553.85 L1033.68,553.67 L1033.71,553.49 L1033.74,553.3 L1033.78,553.12 L1033.81,552.93 L1033.85,552.74 L1033.89,552.55 L1033.93,552.36 L1033.97,552.16 L1034.01,551.97 L1034.06,551.78 L1034.1,551.58 L1034.15,551.38 L1034.2,551.19 L1034.25,550.99 L1034.3,550.79 L1034.36,550.59 L1034.41,550.4 L1034.47,550.2 L1034.53,550 L1034.58,549.8 L1034.65,549.59 L1034.71,549.39 L1034.77,549.19 L1034.84,548.99 L1034.9,548.79 L1034.97,548.59 L1035.04,548.38 L1035.11,548.18 L1035.18,547.98 L1035.26,547.77 L1035.33,547.57 L1035.41,547.37 L1035.49,547.16 L1035.57,546.96 L1035.65,546.75 L1035.73,546.55 L1035.82,546.35 L1035.9,546.14 L1035.99,545.94 L1036.08,545.73 L1036.17,545.53 L1036.26,545.32 L1036.35,545.12 L1036.45,544.91 L1036.54,544.71 L1036.64,544.5 L1036.74,544.29 L1036.84,544.09 L1036.94,543.88 L1037.04,543.68 L1037.15,543.47 L1037.25,543.27 L1037.36,543.06 L1037.47,542.85 L1037.58,542.65 L1037.69,542.44 L1037.81,542.23 L1037.92,542.03 L1038.04,541.82 L1038.16,541.62 L1038.27,541.41 L1038.4,541.2 L1038.52,541 L1038.64,540.79 L1038.77,540.58 L1038.89,540.38 L1039.02,540.17 L1039.15,539.96 L1039.28,539.76 L1039.41,539.55 L1039.55,539.34 L1039.68,539.14 L1039.82,538.93 L1039.96,538.72 L1040.1,538.52 L1040.24,538.31 L1040.38,538.1 L1040.53,537.89 L1040.67,537.69 L1040.82,537.48 L1040.97,537.27 L1041.12,537.07 L1041.27,536.86 L1041.42,536.65 L1041.58,536.45 L1041.73,536.24 L1041.89,536.03 L1042.05,535.82 L1042.21,535.62 L1042.37,535.41 L1042.53,535.2 L1042.7,535 L1042.86,534.79 L1043.03,534.58 L1043.2,534.37 L1043.37,534.17 L1043.54,533.96 L1043.72,533.75 L1043.89,533.55 L1044.07,533.34 L1044.25,533.13 L1044.42,532.92 L1044.61,532.72 L1044.79,532.51 L1044.97,532.3 L1045.16,532.1 L1045.34,531.89 L1045.53,531.68 L1045.72,531.47 L1045.91,531.27 L1046.1,531.06 L1046.3,530.85 L1046.49,530.65 L1046.69,530.44 L1046.89,530.23 L1047.09,530.02 L1047.29,529.82 L1047.49,529.61 L1047.7,529.4 L1047.9,529.2 L1048.11,528.99 L1048.32,528.78 L1048.53,528.57 L1048.74,528.37 L1048.95,528.16 L1049.17,527.95 L1049.38,527.75 L1049.6,527.54 L1049.82,527.33 L1050.04,527.12 L1050.26,526.92 L1050.48,526.71 L1050.71,526.5 L1050.93,526.3 L1051.16,526.09 L1051.39,525.88 L1051.62,525.68 L1051.85,525.47 L1052.09,525.26 L1052.32,525.05 L1052.56,524.85 L1052.8,524.64 L1053.04,524.43 L1053.28,524.23 L1053.52,524.02 L1053.76,523.81 L1054.01,523.61 L1054.25,523.4 L1054.5,523.19 L1054.75,522.99 L1055,522.78 L1055.25,522.57 L1055.51,522.37 L1055.76,522.16 L1056.02,521.95 L1056.28,521.74 L1056.54,521.54 L1056.8,521.33 L1057.06,521.12 L1057.33,520.92 L1057.59,520.71 L1057.86,520.5 L1058.13,520.3 L1058.4,520.09 L1058.67,519.88 L1058.94,519.68 L1059.22,519.47 L1059.49,519.27 L1059.77,519.06 L1060.05,518.85 L1060.33,518.65 L1060.61,518.44 L1060.89,518.23 L1061.18,518.03 L1061.46,517.82 L1061.75,517.61 L1062.04,517.41 L1062.33,517.2 L1062.62,516.99 L1062.92,516.79 L1063.21,516.58 L1063.51,516.38 L1063.81,516.17 L1064.11,515.96 L1064.41,515.76 L1064.71,515.55 L1065.01,515.34 L1065.32,515.14 L1065.62,514.93 L1065.93,514.73 L1066.24,514.52 L1066.55,514.31 L1066.86,514.11 L1067.18,513.9 L1067.49,513.7 L1067.81,513.49 L1068.13,513.28 L1068.45,513.08 L1068.77,512.87 L1069.09,512.67 L1069.42,512.46 L1069.74,512.25 L1070.07,512.05 L1070.4,511.84 L1070.73,511.64 L1071.06,511.43 L1071.39,511.23 L1071.73,511.02 L1072.06,510.81 L1072.4,510.61 L1072.74,510.4 L1073.08,510.2 L1073.42,509.99 L1073.76,509.79 L1074.11,509.58 L1074.45,509.38 L1074.8,509.17 L1075.15,508.97 L1075.5,508.76 L1075.85,508.55 L1076.21,508.35 L1076.56,508.14 L1076.92,507.94 L1077.28,507.73 L1077.64,507.53 L1078,507.32 L1078.36,507.12 L1078.72,506.91 L1079.09,506.71 L1079.45,506.5 L1079.82,506.3 L1080.19,506.09 L1080.56,505.89 L1080.94,505.68 L1081.31,505.48 L1081.68,505.27 L1082.06,505.07 L1082.44,504.86 L1082.82,504.66 L1083.2,504.45 L1083.58,504.25 L1083.97,504.04 L1084.35,503.84 L1084.74,503.63 L1085.13,503.43 L1085.52,503.22 L1085.91,503.02 L1086.3,502.81 L1086.7,502.61 L1087.09,502.41 L1087.49,502.2 L1087.89,502 L1088.29,501.79 L1088.69,501.59 L1089.09,501.38 L1089.5,501.18 L1089.91,500.98 L1090.31,500.77 L1090.72,500.57 L1091.13,500.36 L1091.54,500.16 L1091.96,499.95 L1092.37,499.75 L1092.79,499.55 L1093.21,499.34 L1093.63,499.14 L1094.05,498.93 L1094.47,498.73 L1094.89,498.53 L1095.32,498.32 L1095.74,498.12 L1096.17,497.91 L1096.6,497.71 L1097.03,497.51 L1097.47,497.3 L1097.9,497.1 L1098.33,496.9 L1098.77,496.69 L1099.21,496.49 L1099.65,496.29 L1100.09,496.08 L1100.53,495.88 L1100.98,495.67 L1101.42,495.47 L1101.87,495.27 L1102.32,495.06 L1102.77,494.86 L1103.22,494.66 L1103.67,494.45 L1104.13,494.25 L1104.58,494.05 L1105.04,493.85 L1105.5,493.64 L1105.96,493.44 L1106.42,493.24 L1106.88,493.03 L1107.35,492.83 L1107.82,492.63 L1108.28,492.42 L1108.75,492.22 L1109.22,492.02 L1109.69,491.82 L1110.17,491.61 L1110.64,491.41 L1111.12,491.21 L1111.6,491.01 L1112.08,490.8 L1112.56,490.6 L1113.04,490.4 L1113.52,490.2 L1114.01,489.99 L1114.49,489.79 L1114.98,489.59 L1115.47,489.39 L1115.96,489.18 L1116.46,488.98 L1116.95,488.78 L1117.45,488.58 L1117.94,488.38 L1118.44,488.17 L1118.94,487.97 L1119.44,487.77 L1119.94,487.57 L1120.45,487.37 L1120.95,487.16 L1121.46,486.96 L1121.97,486.76 L1122.48,486.56 L1122.99,486.36 L1123.5,486.16 L1124.02,485.95 L1124.53,485.75 L1125.05,485.55 L1125.57,485.35 L1126.09,485.15 L1126.61,484.95 L1127.14,484.75 L1127.66,484.54 L1128.19,484.34 L1128.71,484.14 L1129.24,483.94 L1129.77,483.74 L1130.31,483.54 L1130.84,483.34 L1131.37,483.14 L1131.91,482.93 L1132.45,482.73 L1132.99,482.53 L1133.53,482.33 L1134.07,482.13 L1134.61,481.93 L1135.16,481.73 L1135.71,481.53 L1136.25,481.33 L1136.8,481.13 L1137.35,480.93 L1137.91,480.73 L1138.46,480.53 L1139.02,480.33 L1139.57,480.13 L1140.13,479.93 L1140.69,479.73 L1141.25,479.53 L1141.81,479.33 L1142.38,479.13 L1142.94,478.92 L1143.51,478.72 L1144.08,478.52 L1144.65,478.33 L1145.22,478.13 L1145.79,477.93 L1146.37,477.73 L1146.94,477.53 L1147.52,477.33 L1148.1,477.13 L1148.68,476.93 L1149.26,476.73 L1149.85,476.53 L1150.43,476.33 L1151.02,476.13 L1151.6,475.93 L1152.19,475.73 L1152.78,475.53 L1153.38,475.33 L1153.97,475.13 L1154.56,474.93 L1155.16,474.73 L1155.76,474.54 L1156.36,474.34 L1156.96,474.14 L1157.56,473.94 L1158.16,473.74 L1158.77,473.54 L1159.38,473.34 L1159.98,473.14 L1160.59,472.94 L1161.2,472.75 L1161.82,472.55 L1162.43,472.35 L1163.05,472.15 L1163.66,471.95 L1164.28,471.75 L1164.9,471.56 L1165.52,471.36 L1166.15,471.16 L1166.77,470.96 L1167.39,470.76 L1168.02,470.57 L1168.65,470.37 L1169.28,470.17 L1169.91,469.97 L1170.55,469.77 L1171.18,469.58 L1171.82,469.38 L1172.45,469.18 L1173.09,468.98 L1173.73,468.79 L1174.37,468.59 L1175.02,468.39 L1175.66,468.19 L1176.31,468 L1176.95,467.8 L1177.6,467.6 L1178.25,467.4 L1178.91,467.21 L1179.56,467.01 L1180.21,466.81 L1180.87,466.62 L1181.53,466.42 L1182.19,466.22 L1182.85,466.03 L1183.51,465.83 L1184.17,465.63 L1184.84,465.44 L1185.51,465.24 L1186.17,465.04 L1186.84,464.85 L1187.52,464.65 L1188.19,464.45 L1188.86,464.26 L1189.54,464.06 L1190.21,463.86 L1190.89,463.67 L1191.57,463.47 L1192.25,463.28 L1192.94,463.08 L1193.62,462.88 L1194.31,462.69 L1194.99,462.49 L1195.68,462.3 L1196.37,462.1 L1197.06,461.91 L1197.76,461.71 L1198.45,461.51 L1199.15,461.32 L1199.84,461.12 L1200.54,460.93 L1201.24,460.73 L1201.94,460.54 L1202.65,460.34 L1203.35,460.15 L1204.06,459.95 L1204.77,459.76 L1205.47,459.56 L1206.19,459.37 L1206.9,459.17 L1207.61,458.98 L1208.33,458.78 L1209.04,458.59 L1209.76,458.39 L1210.48,458.2 L1211.2,458.01 L1211.92,457.81 L1212.65,457.62 L1213.37,457.42 L1214.1,457.23 L1214.83,457.03 L1215.55,456.84 L1216.29,456.65 L1217.02,456.45 L1217.75,456.26 L1218.49,456.06 L1219.22,455.87 L1219.96,455.68 L1220.7,455.48 L1221.44,455.29 L1222.19,455.1 L1222.93,454.9 L1223.68,454.71 L1224.42,454.52 L1225.17,454.32 L1225.92,454.13 L1226.67,453.94 L1227.43,453.74 L1228.18,453.55 L1228.94,453.36 L1229.69,453.16 L1230.45,452.97 L1231.21,452.78 L1231.97,452.59 L1232.74,452.39 L1233.5,452.2 L1234.27,452.01 L1235.04,451.81 L1235.81,451.62 L1236.58,451.43 L1237.35,451.24 L1238.12,451.05 L1238.9,450.85 L1239.67,450.66 L1240.45,450.47 L1241.23,450.28 L1242.01,450.09 L1242.79,449.89 L1243.58,449.7 L1244.36,449.51 L1245.15,449.32 L1245.94,449.13 L1246.73,448.94 L1247.52,448.74 L1248.31,448.55 L1249.1,448.36 L1249.9,448.17 L1250.7,447.98 L1251.49,447.79 L1252.29,447.6 L1253.09,447.41 L1253.9,447.22 L1254.7,447.02 L1255.51,446.83 L1256.31,446.64 L1257.12,446.45 L1257.93,446.26 L1258.74,446.07 L1259.56,445.88 L1260.37,445.69 L1261.19,445.5 L1262,445.31 L1262.82,445.12 L1263.64,444.93 L1264.47,444.74 L1265.29,444.55 L1266.11,444.36 L1266.94,444.17 L1267.77,443.98 L1268.6,443.79 L1269.43,443.6 L1270.26,443.41 L1271.09,443.22 L1271.93,443.03 L1272.76,442.84 L1273.6,442.65 L1274.44,442.47 L1275.28,442.28 L1276.12,442.09 L1276.97,441.9 L1277.81,441.71 L1278.66,441.52 L1279.51,441.33 L1280.36,441.14 L1281.21,440.95 L1282.06,440.77 L1282.91,440.58 L1283.77,440.39 L1284.63,440.2 L1285.48,440.01 L1286.34,439.82 L1287.21,439.64 L1288.07,439.45 L1288.93,439.26 L1289.8,439.07 L1290.67,438.88 L1291.53,438.7 L1292.4,438.51 L1293.28,438.32 L1294.15,438.13 L1295.02,437.95 L1295.9,437.76 L1296.78,437.57 L1297.65,437.39 L1298.53,437.2 L1299.42,437.01 L1300.3,436.82 L1301.18,436.64 L1302.07,436.45 L1302.96,436.26 L1303.85,436.08 L1304.74,435.89 L1305.63,435.7 L1306.52,435.52 L1307.42,435.33 L1308.31,435.14 L1309.21,434.96 L1310.11,434.77 L1311.01,434.59 L1311.91,434.4 L1312.82,434.21 L1313.72,434.03 L1314.63,433.84 L1315.54,433.66 L1316.45,433.47 L1317.36,433.29 L1318.27,433.1 L1319.18,432.92 L1320.1,432.73 L1321.02,432.54 L1321.94,432.36 L1322.86,432.17 L1323.78,431.99 L1324.7,431.8 L1325.62,431.62 L1326.55,431.44 L1327.48,431.25 L1328.4,431.07 L1329.33,430.88 L1330.27,430.7 L1331.2,430.51 L1332.13,430.33 L1333.07,430.14 L1334.01,429.96 L1334.95,429.78 L1335.89,429.59 L1336.83,429.41 L1337.77,429.22 L1338.72,429.04 L1339.66,428.86 L1340.61,428.67 L1341.56,428.49 L1342.51,428.31 L1343.46,428.12 L1344.41,427.94 L1345.37,427.76 L1346.33,427.57 L1347.28,427.39 L1348.24,427.21 L1349.2,427.03 L1350.17,426.84 L1351.13,426.66 L1352.09,426.48 L1353.06,426.3 L1354.03,426.11 L1355,425.93 L1355.97,425.75 L1356.94,425.57 L1357.92,425.38 L1358.89,425.2 L1359.87,425.02 L1360.85,424.84 L1361.83,424.66 L1362.81,424.48 L1363.79,424.29 L1364.77,424.11 L1365.76,423.93 L1366.75,423.75 L1367.74,423.57 L1368.73,423.39 L1369.72,423.21 L1370.71,423.03 L1371.7,422.84 L1372.7,422.66 L1373.7,422.48 L1374.7,422.3 L1375.7,422.12 L1376.7,421.94 L1377.7,421.76 L1378.71,421.58 L1379.71,421.4 L1380.72,421.22 L1381.73,421.04 L1382.74,420.86 L1383.75,420.68 L1384.76,420.5 L1385.78,420.32 L1386.8,420.14 L1387.81,419.96 L1388.83,419.78 L1389.85,419.6 L1390.88,419.43 L1391.9,419.25" stroke="#808080"/>
<path d="M1232.64,620.29 L1232.64,620.28 L1232.64,620.28 L1232.65,620.26 L1232.65,620.24 L1232.65,620.22 L1232.65,620.19 L1232.66,620.15 L1232.66,620.11 L1232.67,620.07 L1232.67,620.02 L1232.68,619.96 L1232.69,619.91 L1232.7,619.84 L1232.71,619.78 L1232.72,619.71 L1232.73,619.64 L1232.74,619.57 L1232.75,619.49 L1232.76,619.41 L1232.77,619.33 L1232.79,619.25 L1232.8,619.16 L1232.81,619.07 L1232.83,618.98 L1232.85,618.89 L1232.86,618.8 L1232.88,618.71 L1232.9,618.61 L1232.92,618.52 L1232.93,618.42 L1232.95,618.32 L1232.98,618.22 L1233,618.12 L1233.02,618.02 L1233.04,617.92 L1233.06,617.81 L1233.09,617.71 L1233.11,617.61 L1233.14,617.5 L1233.16,617.4 L1233.19,617.29 L1233.22,617.18 L1233.24,617.08 L1233.27,616.97 L1233.3,616.86 L1233.33,616.75 L1233.36,616.64 L1233.39,616.53 L1233.42,616.43 L1233.45,616.32 L1233.49,616.2 L1233.52,616.09 L1233.56,615.98 L1233.59,615.87 L1233.63,615.76 L1233.66,615.65 L1233.7,615.54 L1233.74,615.43 L1233.77,615.31 L1233.81,615.2 L1233.85,615.09 L1233.89,614.97 L1233.93,614.86 L1233.97,614.75 L1234.02,614.63 L1234.06,614.52 L1234.1,614.41 L1234.15,614.29 L1234.19,614.18 L1234.24,614.06 L1234.28,613.95 L1234.33,613.84 L1234.37,613.72 L1234.42,613.61 L1234.47,613.49 L1234.52,613.38 L1234.57,613.26 L1234.62,613.15 L1234.67,613.03 L1234.72,612.92 L1234.77,612.8 L1234.83,612.68 L1234.88,612.57 L1234.94,612.45 L1234.99,612.34 L1235.05,612.22 L1235.1,612.11 L1235.16,611.99 L1235.22,611.87 L1235.28,611.76 L1235.33,611.64 L1235.39,611.53 L1235.45,611.41 L1235.51,611.29 L1235.58,611.18 L1235.64,611.06 L1235.7,610.94 L1235.76,610.83 L1235.83,610.71 L1235.89,610.59 L1235.96,610.48 L1236.02,610.36 L1236.09,610.24 L1236.16,610.13 L1236.23,610.01 L1236.29,609.89 L1236.36,609.78 L1236.43,609.66 L1236.5,609.54 L1236.58,609.42 L1236.65,609.31 L1236.72,609.19 L1236.79,609.07 L1236.87,608.96 L1236.94,608.84 L1237.02,608.72 L1237.09,608.6 L1237.17,608.49 L1237.24,608.37 L1237.32,608.25 L1237.4,608.14 L1237.48,608.02 L1237.56,607.9 L1237.64,607.78 L1237.72,607.67 L1237.8,607.55 L1237.88,607.43 L1237.97,607.31 L1238.05,607.2 L1238.14,607.08 L1238.22,606.96 L1238.31,606.84 L1238.39,606.73 L1238.48,606.61 L1238.57,606.49 L1238.65,606.37 L1238.74,606.25 L1238.83,606.14 L1238.92,606.02 L1239.01,605.9 L1239.1,605.78 L1239.2,605.67 L1239.29,605.55 L1239.38,605.43 L1239.48,605.31 L1239.57,605.2 L1239.67,605.08 L1239.76,604.96 L1239.86,604.84 L1239.96,604.72 L1240.05,604.61 L1240.15,604.49 L1240.25,604.37 L1240.35,604.25 L1240.45,604.13 L1240.55,604.02 L1240.65,603.9 L1240.76,603.78 L1240.86,603.66 L1240.96,603.55 L1241.07,603.43 L1241.17,603.31 L1241.28,603.19 L1241.38,603.07 L1241.49,602.96 L1241.6,602.84 L1241.71,602.72 L1241.82,602.6 L1241.93,602.48 L1242.04,602.37 L1242.15,602.25 L1242.26,602.13 L1242.37,602.01 L1242.48,601.89 L1242.6,601.78 L1242.71,601.66 L1242.82,601.54 L1242.94,601.42 L1243.06,601.3 L1243.17,601.19 L1243.29,601.07 L1243.41,600.95 L1243.53,600.83 L1243.65,600.72 L1243.77,600.6 L1243.89,600.48 L1244.01,600.36 L1244.13,600.24 L1244.25,600.13 L1244.38,600.01 L1244.5,599.89 L1244.62,599.77 L1244.75,599.65 L1244.87,599.54 L1245,599.42 L1245.13,599.3 L1245.26,599.18 L1245.38,599.06 L1245.51,598.95 L1245.64,598.83 L1245.77,598.71 L1245.9,598.59 L1246.04,598.47 L1246.17,598.36 L1246.3,598.24 L1246.43,598.12 L1246.57,598 L1246.7,597.88 L1246.84,597.77 L1246.98,597.65 L1247.11,597.53 L1247.25,597.41 L1247.39,597.29 L1247.53,597.18 L1247.67,597.06 L1247.81,596.94 L1247.95,596.82 L1248.09,596.7 L1248.23,596.59 L1248.37,596.47 L1248.52,596.35 L1248.66,596.23 L1248.81,596.12 L1248.95,596 L1249.1,595.88 L1249.24,595.76 L1249.39,595.64 L1249.54,595.53 L1249.69,595.41 L1249.84,595.29 L1249.99,595.17 L1250.14,595.05 L1250.29,594.94 L1250.44,594.82 L1250.59,594.7 L1250.74,594.58 L1250.9,594.47 L1251.05,594.35 L1251.21,594.23 L1251.36,594.11 L1251.52,593.99 L1251.68,593.88 L1251.83,593.76 L1251.99,593.64 L1252.15,593.52 L1252.31,593.41 L1252.47,593.29 L1252.63,593.17 L1252.79,593.05 L1252.96,592.93 L1253.12,592.82 L1253.28,592.7 L1253.45,592.58 L1253.61,592.46 L1253.78,592.35 L1253.94,592.23 L1254.11,592.11 L1254.28,591.99 L1254.44,591.88 L1254.61,591.76 L1254.78,591.64 L1254.95,591.52 L1255.12,591.4 L1255.29,591.29 L1255.47,591.17 L1255.64,591.05 L1255.81,590.93 L1255.99,590.82 L1256.16,590.7 L1256.34,590.58 L1256.51,590.46 L1256.69,590.35 L1256.87,590.23 L1257.04,590.11 L1257.22,589.99 L1257.4,589.88 L1257.58,589.76 L1257.76,589.64 L1257.94,589.52 L1258.12,589.41 L1258.31,589.29 L1258.49,589.17 L1258.67,589.05 L1258.86,588.94 L1259.04,588.82 L1259.23,588.7 L1259.41,588.58 L1259.6,588.47 L1259.79,588.35 L1259.98,588.23 L1260.17,588.11 L1260.35,588 L1260.54,587.88 L1260.74,587.76 L1260.93,587.64 L1261.12,587.53 L1261.31,587.41 L1261.51,587.29 L1261.7,587.18 L1261.89,587.06 L1262.09,586.94 L1262.29,586.82 L1262.48,586.71 L1262.68,586.59 L1262.88,586.47 L1263.08,586.35 L1263.27,586.24 L1263.47,586.12 L1263.68,586 L1263.88,585.89 L1264.08,585.77 L1264.28,585.65 L1264.48,585.53 L1264.69,585.42 L1264.89,585.3 L1265.1,585.18 L1265.3,585.07 L1265.51,584.95 L1265.72,584.83 L1265.92,584.71 L1266.13,584.6 L1266.34,584.48 L1266.55,584.36 L1266.76,584.25 L1266.97,584.13 L1267.18,584.01 L1267.4,583.9 L1267.61,583.78 L1267.82,583.66 L1268.04,583.54 L1268.25,583.43 L1268.47,583.31 L1268.68,583.19 L1268.9,583.08 L1269.12,582.96 L1269.34,582.84 L1269.55,582.73 L1269.77,582.61 L1269.99,582.49 L1270.21,582.38 L1270.44,582.26 L1270.66,582.14 L1270.88,582.02 L1271.1,581.91 L1271.33,581.79 L1271.55,581.67 L1271.78,581.56 L1272,581.44 L1272.23,581.32 L1272.46,581.21 L1272.68,581.09 L1272.91,580.97 L1273.14,580.86 L1273.37,580.74 L1273.6,580.62 L1273.83,580.51 L1274.07,580.39 L1274.3,580.27 L1274.53,580.16 L1274.76,580.04 L1275,579.92 L1275.23,579.81 L1275.47,579.69 L1275.71,579.57 L1275.94,579.46 L1276.18,579.34 L1276.42,579.23 L1276.66,579.11 L1276.9,578.99 L1277.14,578.88 L1277.38,578.76 L1277.62,578.64 L1277.86,578.53 L1278.1,578.41 L1278.35,578.29 L1278.59,578.18 L1278.84,578.06 L1279.08,577.95 L1279.33,577.83 L1279.57,577.71 L1279.82,577.6 L1280.07,577.48 L1280.32,577.36 L1280.57,577.25 L1280.82,577.13 L1281.07,577.02 L1281.32,576.9 L1281.57,576.78 L1281.82,576.67 L1282.08,576.55 L1282.33,576.43 L1282.59,576.32 L1282.84,576.2 L1283.1,576.09 L1283.35,575.97 L1283.61,575.85 L1283.87,575.74 L1284.13,575.62 L1284.39,575.51 L1284.64,575.39 L1284.91,575.27 L1285.17,575.16 L1285.43,575.04 L1285.69,574.93 L1285.95,574.81 L1286.22,574.69 L1286.48,574.58 L1286.75,574.46 L1287.01,574.35 L1287.28,574.23 L1287.54,574.11 L1287.81,574 L1288.08,573.88 L1288.35,573.77 L1288.62,573.65 L1288.89,573.54 L1289.16,573.42 L1289.43,573.3 L1289.7,573.19 L1289.98,573.07 L1290.25,572.96 L1290.52,572.84 L1290.8,572.73 L1291.07,572.61 L1291.35,572.5 L1291.62,572.38 L1291.9,572.26 L1292.18,572.15 L1292.46,572.03 L1292.74,571.92 L1293.02,571.8 L1293.3,571.69 L1293.58,571.57 L1293.86,571.46 L1294.14,571.34 L1294.43,571.22 L1294.71,571.11 L1294.99,570.99 L1295.28,570.88 L1295.57,570.76 L1295.85,570.65 L1296.14,570.53 L1296.43,570.42 L1296.71,570.3 L1297,570.19 L1297.29,570.07 L1297.58,569.96 L1297.87,569.84 L1298.17,569.73 L1298.46,569.61 L1298.75,569.5 L1299.04,569.38 L1299.34,569.27 L1299.63,569.15 L1299.93,569.04 L1300.22,568.92 L1300.52,568.81 L1300.82,568.69 L1301.12,568.58 L1301.42,568.46 L1301.72,568.35 L1302.02,568.23 L1302.32,568.12 L1302.62,568 L1302.92,567.89 L1303.22,567.77 L1303.52,567.66 L1303.83,567.54 L1304.13,567.43 L1304.44,567.31 L1304.74,567.2 L1305.05,567.08 L1305.36,566.97 L1305.67,566.85 L1305.97,566.74 L1306.28,566.62 L1306.59,566.51 L1306.9,566.39 L1307.21,566.28 L1307.53,566.17 L1307.84,566.05 L1308.15,565.94 L1308.46,565.82 L1308.78,565.71 L1309.09,565.59 L1309.41,565.48 L1309.73,565.36 L1310.04,565.25 L1310.36,565.13 L1310.68,565.02 L1311,564.91 L1311.32,564.79 L1311.64,564.68 L1311.96,564.56 L1312.28,564.45 L1312.6,564.33 L1312.92,564.22 L1313.25,564.11 L1313.57,563.99 L1313.9,563.88 L1314.22,563.76 L1314.55,563.65 L1314.87,563.54 L1315.2,563.42 L1315.53,563.31 L1315.86,563.19 L1316.19,563.08 L1316.52,562.97 L1316.85,562.85 L1317.18,562.74 L1317.51,562.62 L1317.84,562.51 L1318.18,562.4 L1318.51,562.28 L1318.84,562.17 L1319.18,562.05 L1319.52,561.94 L1319.85,561.83 L1320.19,561.71 L1320.53,561.6 L1320.86,561.48 L1321.2,561.37 L1321.54,561.26 L1321.88,561.14 L1322.22,561.03 L1322.57,560.92 L1322.91,560.8 L1323.25,560.69 L1323.6,560.58 L1323.94,560.46 L1324.28,560.35 L1324.63,560.23 L1324.98,560.12 L1325.32,560.01 L1325.67,559.89 L1326.02,559.78 L1326.37,559.67 L1326.72,559.55 L1327.07,559.44 L1327.42,559.33 L1327.77,559.21 L1328.12,559.1 L1328.47,558.99 L1328.83,558.87 L1329.18,558.76 L1329.53,558.65 L1329.89,558.53 L1330.25,558.42 L1330.6,558.31 L1330.96,558.2 L1331.32,558.08 L1331.68,557.97 L1332.04,557.86 L1332.39,557.74 L1332.76,557.63 L1333.12,557.52 L1333.48,557.4 L1333.84,557.29 L1334.2,557.18 L1334.57,557.07 L1334.93,556.95 L1335.3,556.84 L1335.66,556.73 L1336.03,556.61 L1336.4,556.5 L1336.76,556.39 L1337.13,556.28 L1337.5,556.16 L1337.87,556.05 L1338.24,555.94 L1338.61,555.83 L1338.98,555.71 L1339.35,555.6 L1339.73,555.49 L1340.1,555.37 L1340.47,555.26 L1340.85,555.15 L1341.22,555.04 L1341.6,554.92 L1341.98,554.81 L1342.35,554.7 L1342.73,554.59 L1343.11,554.48 L1343.49,554.36 L1343.87,554.25 L1344.25,554.14 L1344.63,554.03 L1345.01,553.91 L1345.4,553.8 L1345.78,553.69 L1346.16,553.58 L1346.55,553.47 L1346.93,553.35 L1347.32,553.24 L1347.71,553.13 L1348.09,553.02 L1348.48,552.91 L1348.87,552.79 L1349.26,552.68 L1349.65,552.57 L1350.04,552.46 L1350.43,552.35 L1350.82,552.23 L1351.21,552.12 L1351.61,552.01 L1352,551.9 L1352.39,551.79 L1352.79,551.67 L1353.18,551.56 L1353.58,551.45 L1353.98,551.34 L1354.38,551.23 L1354.77,551.12 L1355.17,551.01 L1355.57,550.89 L1355.97,550.78 L1356.37,550.67 L1356.77,550.56 L1357.18,550.45 L1357.58,550.34 L1357.98,550.22 L1358.39,550.11 L1358.79,550 L1359.2,549.89 L1359.6,549.78 L1360.01,549.67 L1360.42,549.56 L1360.82,549.45 L1361.23,549.33 L1361.64,549.22 L1362.05,549.11 L1362.46,549 L1362.87,548.89 L1363.28,548.78 L1363.7,548.67 L1364.11,548.56 L1364.52,548.45 L1364.94,548.34 L1365.35,548.22 L1365.77,548.11 L1366.19,548 L1366.6,547.89 L1367.02,547.78 L1367.44,547.67 L1367.86,547.56 L1368.28,547.45 L1368.7,547.34 L1369.12,547.23 L1369.54,547.12 L1369.96,547.01 L1370.38,546.9 L1370.81,546.78 L1371.23,546.67 L1371.66,546.56 L1372.08,546.45 L1372.51,546.34 L1372.94,546.23 L1373.36,546.12 L1373.79,546.01 L1374.22,545.9 L1374.65,545.79 L1375.08,545.68 L1375.51,545.57 L1375.94,545.46 L1376.37,545.35 L1376.8,545.24 L1377.24,545.13 L1377.67,545.02 L1378.11,544.91 L1378.54,544.8 L1378.98,544.69 L1379.41,544.58 L1379.85,544.47 L1380.29,544.36 L1380.73,544.25 L1381.17,544.14 L1381.61,544.03 L1382.05,543.92 L1382.49,543.81 L1382.93,543.7 L1383.37,543.59 L1383.81,543.48 L1384.26,543.37 L1384.7,543.26 L1385.15,543.15 L1385.59,543.04 L1386.04,542.93 L1386.49,542.82 L1386.93,542.71 L1387.38,542.6 L1387.83,542.49 L1388.28,542.39 L1388.73,542.28 L1389.18,542.17 L1389.63,542.06 L1390.09,541.95 L1390.54,541.84 L1390.99,541.73 L1391.45,541.62 L1391.9,541.51" stroke="#ff8000"/>
<path d="M1352.26,674.5 L1352.26,674.5 L1352.26,674.5 L1352.26,674.49 L1352.26,674.49 L1352.26,674.48 L1352.26,674.48 L1352.26,674.47 L1352.26,674.47 L1352.26,674.46 L1352.26,674.45 L1352.26,674.44 L1352.27,674.43 L1352.27,674.42 L1352.27,674.4 L1352.27,674.39 L1352.28,674.37 L1352.28,674.36 L1352.28,674.34 L1352.28,674.32 L1352.29,674.31 L1352.29,674.29 L1352.29,674.27 L1352.3,674.25 L1352.3,674.23 L1352.31,674.21 L1352.31,674.18 L1352.31,674.16 L1352.32,674.14 L1352.32,674.11 L1352.33,674.09 L1352.33,674.06 L1352.34,674.03 L1352.34,674.01 L1352.35,673.98 L1352.35,673.95 L1352.36,673.92 L1352.37,673.89 L1352.37,673.87 L1352.38,673.83 L1352.38,673.8 L1352.39,673.77 L1352.4,673.74 L1352.4,673.71 L1352.41,673.68 L1352.42,673.64 L1352.43,673.61 L1352.43,673.58 L1352.44,673.54 L1352.45,673.51 L1352.46,673.47 L1352.47,673.44 L1352.47,673.4 L1352.48,673.37 L1352.49,673.33 L1352.5,673.29 L1352.51,673.26 L1352.52,673.22 L1352.53,673.18 L1352.54,673.15 L1352.55,673.11 L1352.56,673.07 L1352.57,673.03 L1352.58,672.99 L1352.59,672.95 L1352.6,672.91 L1352.61,672.88 L1352.62,672.84 L1352.63,672.8 L1352.64,672.76 L1352.65,672.72 L1352.66,672.68 L1352.67,672.64 L1352.69,672.59 L1352.7,672.55 L1352.71,672.51 L1352.72,672.47 L1352.73,672.43 L1352.75,672.39 L1352.76,672.35 L1352.77,672.3 L1352.79,672.26 L1352.8,672.22 L1352.81,672.18 L1352.83,672.14 L1352.84,672.09 L1352.85,672.05 L1352.87,672.01 L1352.88,671.96 L1352.9,671.92 L1352.91,671.88 L1352.93,671.83 L1352.94,671.79 L1352.95,671.75 L1352.97,671.7 L1352.99,671.66 L1353,671.62 L1353.02,671.57 L1353.03,671.53 L1353.05,671.48 L1353.06,671.44 L1353.08,671.39 L1353.1,671.35 L1353.11,671.31 L1353.13,671.26 L1353.15,671.22 L1353.16,671.17 L1353.18,671.13 L1353.2,671.08 L1353.22,671.04 L1353.23,670.99 L1353.25,670.95 L1353.27,670.9 L1353.29,670.86 L1353.31,670.81 L1353.33,670.77 L1353.34,670.72 L1353.36,670.67 L1353.38,670.63 L1353.4,670.58 L1353.42,670.54 L1353.44,670.49 L1353.46,670.45 L1353.48,670.4 L1353.5,670.35 L1353.52,670.31 L1353.54,670.26 L1353.56,670.22 L1353.58,670.17 L1353.6,670.12 L1353.62,670.08 L1353.64,670.03 L1353.66,669.98 L1353.69,669.94 L1353.71,669.89 L1353.73,669.85 L1353.75,669.8 L1353.77,669.75 L1353.8,669.71 L1353.82,669.66 L1353.84,669.61 L1353.86,669.57 L1353.89,669.52 L1353.91,669.47 L1353.93,669.43 L1353.96,669.38 L1353.98,669.33 L1354,669.29 L1354.03,669.24 L1354.05,669.19 L1354.08,669.14 L1354.1,669.1 L1354.12,669.05 L1354.15,669 L1354.17,668.96 L1354.2,668.91 L1354.22,668.86 L1354.25,668.81 L1354.27,668.77 L1354.3,668.72 L1354.33,668.67 L1354.35,668.63 L1354.38,668.58 L1354.4,668.53 L1354.43,668.48 L1354.46,668.44 L1354.48,668.39 L1354.51,668.34 L1354.54,668.29 L1354.57,668.25 L1354.59,668.2 L1354.62,668.15 L1354.65,668.1 L1354.68,668.06 L1354.7,668.01 L1354.73,667.96 L1354.76,667.91 L1354.79,667.87 L1354.82,667.82 L1354.85,667.77 L1354.88,667.72 L1354.91,667.68 L1354.94,667.63 L1354.96,667.58 L1354.99,667.53 L1355.02,667.48 L1355.05,667.44 L1355.08,667.39 L1355.11,667.34 L1355.15,667.29 L1355.18,667.24 L1355.21,667.2 L1355.24,667.15 L1355.27,667.1 L1355.3,667.05 L1355.33,667.01 L1355.36,666.96 L1355.4,666.91 L1355.43,666.86 L1355.46,666.81 L1355.49,666.77 L1355.52,666.72 L1355.56,666.67 L1355.59,666.62 L1355.62,666.57 L1355.66,666.52 L1355.69,666.48 L1355.72,666.43 L1355.76,666.38 L1355.79,666.33 L1355.82,666.28 L1355.86,666.24 L1355.89,666.19 L1355.93,666.14 L1355.96,666.09 L1356,666.04 L1356.03,666 L1356.06,665.95 L1356.1,665.9 L1356.14,665.85 L1356.17,665.8 L1356.21,665.75 L1356.24,665.71 L1356.28,665.66 L1356.31,665.61 L1356.35,665.56 L1356.39,665.51 L1356.42,665.46 L1356.46,665.42 L1356.5,665.37 L1356.54,665.32 L1356.57,665.27 L1356.61,665.22 L1356.65,665.17 L1356.69,665.13 L1356.72,665.08 L1356.76,665.03 L1356.8,664.98 L1356.84,664.93 L1356.88,664.88 L1356.92,664.84 L1356.95,664.79 L1356.99,664.74 L1357.03,664.69 L1357.07,664.64 L1357.11,664.59 L1357.15,664.54 L1357.19,664.5 L1357.23,664.45 L1357.27,664.4 L1357.31,664.35 L1357.35,664.3 L1357.39,664.25 L1357.43,664.21 L1357.47,664.16 L1357.52,664.11 L1357.56,664.06 L1357.6,664.01 L1357.64,663.96 L1357.68,663.91 L1357.72,663.87 L1357.77,663.82 L1357.81,663.77 L1357.85,663.72 L1357.89,663.67 L1357.94,663.62 L1357.98,663.57 L1358.02,663.53 L1358.07,663.48 L1358.11,663.43 L1358.15,663.38 L1358.2,663.33 L1358.24,663.28 L1358.29,663.23 L1358.33,663.19 L1358.37,663.14 L1358.42,663.09 L1358.46,663.04 L1358.51,662.99 L1358.55,662.94 L1358.6,662.89 L1358.64,662.85 L1358.69,662.8 L1358.73,662.75 L1358.78,662.7 L1358.83,662.65 L1358.87,662.6 L1358.92,662.55 L1358.97,662.51 L1359.01,662.46 L1359.06,662.41 L1359.11,662.36 L1359.15,662.31 L1359.2,662.26 L1359.25,662.21 L1359.3,662.16 L1359.34,662.12 L1359.39,662.07 L1359.44,662.02 L1359.49,661.97 L1359.54,661.92 L1359.59,661.87 L1359.63,661.82 L1359.68,661.77 L1359.73,661.73 L1359.78,661.68 L1359.83,661.63 L1359.88,661.58 L1359.93,661.53 L1359.98,661.48 L1360.03,661.43 L1360.08,661.39 L1360.13,661.34 L1360.18,661.29 L1360.23,661.24 L1360.28,661.19 L1360.33,661.14 L1360.39,661.09 L1360.44,661.04 L1360.49,661 L1360.54,660.95 L1360.59,660.9 L1360.64,660.85 L1360.7,660.8 L1360.75,660.75 L1360.8,660.7 L1360.85,660.65 L1360.91,660.61 L1360.96,660.56 L1361.01,660.51 L1361.07,660.46 L1361.12,660.41 L1361.17,660.36 L1361.23,660.31 L1361.28,660.26 L1361.33,660.22 L1361.39,660.17 L1361.44,660.12 L1361.5,660.07 L1361.55,660.02 L1361.61,659.97 L1361.66,659.92 L1361.72,659.87 L1361.77,659.83 L1361.83,659.78 L1361.89,659.73 L1361.94,659.68 L1362,659.63 L1362.05,659.58 L1362.11,659.53 L1362.17,659.48 L1362.22,659.44 L1362.28,659.39 L1362.34,659.34 L1362.39,659.29 L1362.45,659.24 L1362.51,659.19 L1362.57,659.14 L1362.62,659.09 L1362.68,659.04 L1362.74,659 L1362.8,658.95 L1362.86,658.9 L1362.92,658.85 L1362.98,658.8 L1363.03,658.75 L1363.09,658.7 L1363.15,658.65 L1363.21,658.61 L1363.27,658.56 L1363.33,658.51 L1363.39,658.46 L1363.45,658.41 L1363.51,658.36 L1363.57,658.31 L1363.63,658.26 L1363.69,658.22 L1363.75,658.17 L1363.82,658.12 L1363.88,658.07 L1363.94,658.02 L1364,657.97 L1364.06,657.92 L1364.12,657.87 L1364.19,657.83 L1364.25,657.78 L1364.31,657.73 L1364.37,657.68 L1364.44,657.63 L1364.5,657.58 L1364.56,657.53 L1364.62,657.48 L1364.69,657.44 L1364.75,657.39 L1364.81,657.34 L1364.88,657.29 L1364.94,657.24 L1365.01,657.19 L1365.07,657.14 L1365.14,657.09 L1365.2,657.04 L1365.27,657 L1365.33,656.95 L1365.4,656.9 L1365.46,656.85 L1365.53,656.8 L1365.59,656.75 L1365.66,656.7 L1365.72,656.65 L1365.79,656.61 L1365.86,656.56 L1365.92,656.51 L1365.99,656.46 L1366.06,656.41 L1366.12,656.36 L1366.19,656.31 L1366.26,656.26 L1366.32,656.22 L1366.39,656.17 L1366.46,656.12 L1366.53,656.07 L1366.6,656.02 L1366.66,655.97 L1366.73,655.92 L1366.8,655.87 L1366.87,655.83 L1366.94,655.78 L1367.01,655.73 L1367.08,655.68 L1367.15,655.63 L1367.21,655.58 L1367.28,655.53 L1367.35,655.48 L1367.42,655.44 L1367.49,655.39 L1367.56,655.34 L1367.64,655.29 L1367.71,655.24 L1367.78,655.19 L1367.85,655.14 L1367.92,655.09 L1367.99,655.05 L1368.06,655 L1368.13,654.95 L1368.2,654.9 L1368.28,654.85 L1368.35,654.8 L1368.42,654.75 L1368.49,654.7 L1368.57,654.66 L1368.64,654.61 L1368.71,654.56 L1368.78,654.51 L1368.86,654.46 L1368.93,654.41 L1369.01,654.36 L1369.08,654.31 L1369.15,654.27 L1369.23,654.22 L1369.3,654.17 L1369.38,654.12 L1369.45,654.07 L1369.52,654.02 L1369.6,653.97 L1369.67,653.93 L1369.75,653.88 L1369.82,653.83 L1369.9,653.78 L1369.98,653.73 L1370.05,653.68 L1370.13,653.63 L1370.2,653.58 L1370.28,653.54 L1370.36,653.49 L1370.43,653.44 L1370.51,653.39 L1370.59,653.34 L1370.66,653.29 L1370.74,653.24 L1370.82,653.19 L1370.9,653.15 L1370.97,653.1 L1371.05,653.05 L1371.13,653 L1371.21,652.95 L1371.29,652.9 L1371.37,652.85 L1371.44,652.81 L1371.52,652.76 L1371.6,652.71 L1371.68,652.66 L1371.76,652.61 L1371.84,652.56 L1371.92,652.51 L1372,652.46 L1372.08,652.42 L1372.16,652.37 L1372.24,652.32 L1372.32,652.27 L1372.4,652.22 L1372.48,652.17 L1372.56,652.12 L1372.64,652.08 L1372.73,652.03 L1372.81,651.98 L1372.89,651.93 L1372.97,651.88 L1373.05,651.83 L1373.13,651.78 L1373.22,651.74 L1373.3,651.69 L1373.38,651.64 L1373.46,651.59 L1373.55,651.54 L1373.63,651.49 L1373.71,651.44 L1373.8,651.39 L1373.88,651.35 L1373.96,651.3 L1374.05,651.25 L1374.13,651.2 L1374.22,651.15 L1374.3,651.1 L1374.39,651.05 L1374.47,651.01 L1374.56,650.96 L1374.64,650.91 L1374.73,650.86 L1374.81,650.81 L1374.9,650.76 L1374.98,650.71 L1375.07,650.67 L1375.15,650.62 L1375.24,650.57 L1375.33,650.52 L1375.41,650.47 L1375.5,650.42 L1375.59,650.37 L1375.67,650.33 L1375.76,650.28 L1375.85,650.23 L1375.94,650.18 L1376.02,650.13 L1376.11,650.08 L1376.2,650.03 L1376.29,649.99 L1376.38,649.94 L1376.46,649.89 L1376.55,649.84 L1376.64,649.79 L1376.73,649.74 L1376.82,649.7 L1376.91,649.65 L1377,649.6 L1377.09,649.55 L1377.18,649.5 L1377.27,649.45 L1377.36,649.4 L1377.45,649.36 L1377.54,649.31 L1377.63,649.26 L1377.72,649.21 L1377.81,649.16 L1377.9,649.11 L1377.99,649.06 L1378.08,649.02 L1378.17,648.97 L1378.27,648.92 L1378.36,648.87 L1378.45,648.82 L1378.54,648.77 L1378.63,648.73 L1378.73,648.68 L1378.82,648.63 L1378.91,648.58 L1379.01,648.53 L1379.1,648.48 L1379.19,648.43 L1379.29,648.39 L1379.38,648.34 L1379.47,648.29 L1379.57,648.24 L1379.66,648.19 L1379.75,648.14 L1379.85,648.1 L1379.94,648.05 L1380.04,648 L1380.13,647.95 L1380.23,647.9 L1380.32,647.85 L1380.42,647.81 L1380.51,647.76 L1380.61,647.71 L1380.71,647.66 L1380.8,647.61 L1380.9,647.56 L1380.99,647.51 L1381.09,647.47 L1381.19,647.42 L1381.28,647.37 L1381.38,647.32 L1381.48,647.27 L1381.58,647.22 L1381.67,647.18 L1381.77,647.13 L1381.87,647.08 L1381.97,647.03 L1382.07,646.98 L1382.16,646.93 L1382.26,646.89 L1382.36,646.84 L1382.46,646.79 L1382.56,646.74 L1382.66,646.69 L1382.76,646.64 L1382.86,646.6 L1382.96,646.55 L1383.06,646.5 L1383.16,646.45 L1383.26,646.4 L1383.36,646.35 L1383.46,646.31 L1383.56,646.26 L1383.66,646.21 L1383.76,646.16 L1383.86,646.11 L1383.96,646.06 L1384.06,646.02 L1384.16,645.97 L1384.27,645.92 L1384.37,645.87 L1384.47,645.82 L1384.57,645.77 L1384.67,645.73 L1384.78,645.68 L1384.88,645.63 L1384.98,645.58 L1385.09,645.53 L1385.19,645.48 L1385.29,645.44 L1385.4,645.39 L1385.5,645.34 L1385.6,645.29 L1385.71,645.24 L1385.81,645.2 L1385.91,645.15 L1386.02,645.1 L1386.12,645.05 L1386.23,645 L1386.33,644.95 L1386.44,644.91 L1386.54,644.86 L1386.65,644.81 L1386.75,644.76 L1386.86,644.71 L1386.97,644.67 L1387.07,644.62 L1387.18,644.57 L1387.29,644.52 L1387.39,644.47 L1387.5,644.42 L1387.61,644.38 L1387.71,644.33 L1387.82,644.28 L1387.93,644.23 L1388.03,644.18 L1388.14,644.14 L1388.25,644.09 L1388.36,644.04 L1388.47,643.99 L1388.57,643.94 L1388.68,643.89 L1388.79,643.85 L1388.9,643.8 L1389.01,643.75 L1389.12,643.7 L1389.23,643.65 L1389.34,643.61 L1389.45,643.56 L1389.56,643.51 L1389.67,643.46 L1389.78,643.41 L1389.89,643.37 L1390,643.32 L1390.11,643.27 L1390.22,643.22 L1390.33,643.17 L1390.44,643.12 L1390.55,643.08 L1390.66,643.03 L1390.78,642.98 L1390.89,642.93 L1391,642.88 L1391.11,642.84 L1391.22,642.79 L1391.34,642.74 L1391.45,642.69 L1391.56,642.64 L1391.67,642.6 L1391.79,642.55 L1391.9,642.5" stroke="#800080"/>
<path d="M116.7,340.63 L120.34,341.4 L123.98,342.17 L127.61,342.93 L131.23,343.7 L134.85,344.47 L138.47,345.23 L142.08,346 L145.68,346.76 L149.28,347.53 L152.87,348.29 L156.46,349.05 L160.05,349.81 L163.62,350.57 L167.2,351.33 L170.77,352.09 L174.33,352.85 L177.89,353.61 L181.44,354.37 L184.99,355.13 L188.53,355.88 L192.06,356.64 L195.6,357.39 L199.12,358.15 L202.64,358.9 L206.16,359.66 L209.67,360.41 L213.18,361.16 L216.68,361.91 L220.17,362.66 L223.66,363.41 L227.15,364.16 L230.62,364.91 L234.1,365.66 L237.57,366.41 L241.03,367.16 L244.49,367.9 L247.94,368.65 L251.39,369.39 L254.84,370.14 L258.27,370.88 L261.71,371.62 L265.13,372.37 L268.56,373.11 L271.97,373.85 L275.38,374.59 L278.79,375.33 L282.19,376.07 L285.59,376.81 L288.98,377.55 L292.37,378.28 L295.75,379.02 L299.12,379.76 L302.49,380.49 L305.86,381.23 L309.22,381.96 L312.57,382.69 L315.92,383.43 L319.26,384.16 L322.6,384.89 L325.94,385.62 L329.27,386.35 L332.59,387.08 L335.91,387.81 L339.22,388.54 L342.53,389.27 L345.83,389.99 L349.13,390.72 L352.42,391.44 L355.71,392.17 L358.99,392.89 L362.26,393.62 L365.54,394.34 L368.8,395.06 L372.06,395.78 L375.32,396.51 L378.57,397.23 L381.81,397.95 L385.05,398.67 L388.29,399.38 L391.52,400.1 L394.74,400.82 L397.96,401.54 L401.18,402.25 L404.39,402.97 L407.59,403.68 L410.79,404.4 L413.98,405.11 L417.17,405.82 L420.35,406.54 L423.53,407.25 L426.7,407.96 L429.87,408.67 L433.03,409.38 L436.19,410.09 L439.34,410.8 L442.48,411.5 L445.63,412.21 L448.76,412.92 L451.89,413.62 L455.02,414.33 L458.14,415.03 L461.25,415.74 L464.36,416.44 L467.47,417.14 L470.57,417.84 L473.66,418.54 L476.75,419.25 L479.84,419.95 L482.91,420.64 L485.99,421.34 L489.06,422.04 L492.12,422.74 L495.18,423.44 L498.23,424.13 L501.28,424.83 L504.32,425.52 L507.36,426.22 L510.39,426.91 L513.41,427.6 L516.44,428.29 L519.45,428.99 L522.46,429.68 L525.47,430.37 L528.47,431.06 L531.47,431.75 L534.46,432.43 L537.44,433.12 L540.42,433.81 L543.39,434.5 L546.36,435.18 L549.33,435.87 L552.29,436.55 L555.24,437.24 L558.19,437.92 L561.13,438.6 L564.07,439.28 L567,439.96 L569.93,440.65 L572.85,441.33 L575.77,442 L578.68,442.68 L581.59,443.36 L584.49,444.04 L587.39,444.72 L590.28,445.39 L593.17,446.07 L596.05,446.74 L598.92,447.42 L601.79,448.09 L604.66,448.76 L607.52,449.44 L610.37,450.11 L613.22,450.78 L616.07,451.45 L618.91,452.12 L621.74,452.79 L624.57,453.46 L627.39,454.12 L630.21,454.79 L633.03,455.46 L635.83,456.12 L638.64,456.79 L641.43,457.45 L644.23,458.12 L647.01,458.78 L649.8,459.44 L652.57,460.1 L655.34,460.77 L658.11,461.43 L660.87,462.09 L663.63,462.75 L666.38,463.41 L669.12,464.06 L671.86,464.72 L674.6,465.38 L677.33,466.03 L680.05,466.69 L682.77,467.34 L685.49,468 L688.2,468.65 L690.9,469.31 L693.6,469.96 L696.29,470.61 L698.98,471.26 L701.67,471.91 L704.34,472.56 L707.02,473.21 L709.68,473.86 L712.35,474.51 L715,475.15 L717.65,475.8 L720.3,476.45 L722.94,477.09 L725.58,477.74 L728.21,478.38 L730.84,479.02 L733.46,479.67 L736.07,480.31 L738.68,480.95 L741.29,481.59 L743.89,482.23 L746.48,482.87 L749.07,483.51 L751.66,484.15 L754.23,484.78 L756.81,485.42 L759.38,486.06 L761.94,486.69 L764.5,487.33 L767.05,487.96 L769.6,488.6 L772.14,489.23 L774.68,489.86 L777.21,490.49 L779.74,491.12 L782.26,491.75 L784.78,492.38 L787.29,493.01 L789.79,493.64 L792.3,494.27 L794.79,494.9 L797.28,495.52 L799.77,496.15 L802.25,496.77 L804.72,497.4 L807.19,498.02 L809.66,498.65 L812.12,499.27 L814.57,499.89 L817.02,500.51 L819.46,501.13 L821.9,501.75 L824.33,502.37 L826.76,502.99 L829.19,503.61 L831.6,504.23 L834.02,504.85 L836.42,505.46 L838.82,506.08 L841.22,506.69 L843.61,507.31 L846,507.92 L848.38,508.53 L850.76,509.15 L853.13,509.76 L855.49,510.37 L857.85,510.98 L860.21,511.59 L862.56,512.2 L864.9,512.81 L867.24,513.42 L869.58,514.02 L871.91,514.63 L874.23,515.23 L876.55,515.84 L878.86,516.45 L881.17,517.05 L883.48,517.65 L885.77,518.26 L888.07,518.86 L890.35,519.46 L892.64,520.06 L894.91,520.66 L897.18,521.26 L899.45,521.86 L901.71,522.46 L903.97,523.05 L906.22,523.65 L908.47,524.25 L910.71,524.84 L912.94,525.44 L915.17,526.03 L917.4,526.63 L919.62,527.22 L921.83,527.81 L924.04,528.4 L926.25,529 L928.45,529.59 L930.64,530.18 L932.83,530.77 L935.01,531.35 L937.19,531.94 L939.36,532.53 L941.53,533.12 L943.69,533.7 L945.85,534.29 L948,534.87 L950.15,535.46 L952.29,536.04 L954.43,536.62 L956.56,537.2 L958.69,537.79 L960.81,538.37 L962.92,538.95 L965.03,539.53 L967.14,540.11 L969.24,540.68 L971.33,541.26 L973.42,541.84 L975.51,542.42 L977.59,542.99 L979.66,543.57 L981.73,544.14 L983.79,544.71 L985.85,545.29 L987.91,545.86 L989.95,546.43 L992,547 L994.03,547.57 L996.07,548.14 L998.09,548.71 L1000.12,549.28 L1002.13,549.85 L1004.15,550.42 L1006.15,550.98 L1008.15,551.55 L1010.15,552.12 L1012.14,552.68 L1014.13,553.24 L1016.11,553.81 L1018.08,554.37 L1020.05,554.93 L1022.02,555.49 L1023.98,556.06 L1025.93,556.62 L1027.88,557.18 L1029.82,557.73 L1031.76,558.29 L1033.7,558.85 L1035.62,559.41 L1037.55,559.96 L1039.47,560.52 L1041.38,561.08 L1043.29,561.63 L1045.19,562.18 L1047.09,562.74 L1048.98,563.29 L1050.86,563.84 L1052.75,564.39 L1054.62,564.94 L1056.49,565.49 L1058.36,566.04 L1060.22,566.59 L1062.08,567.14 L1063.93,567.69 L1065.77,568.23 L1067.61,568.78 L1069.45,569.33 L1071.28,569.87 L1073.1,570.41 L1074.92,570.96 L1076.73,571.5 L1078.54,572.04 L1080.35,572.58 L1082.14,573.13 L1083.94,573.67 L1085.72,574.21 L1087.51,574.74 L1089.28,575.28 L1091.06,575.82 L1092.82,576.36 L1094.59,576.89 L1096.34,577.43 L1098.09,577.97 L1099.84,578.5 L1101.58,579.03 L1103.32,579.57 L1105.05,580.1 L1106.77,580.63 L1108.49,581.16 L1110.21,581.69 L1111.92,582.22 L1113.62,582.75 L1115.32,583.28 L1117.02,583.81 L1118.71,584.34 L1120.39,584.86 L1122.07,585.39 L1123.74,585.92 L1125.41,586.44 L1127.07,586.97 L1128.73,587.49 L1130.38,588.01 L1132.03,588.53 L1133.67,589.06 L1135.31,589.58 L1136.94,590.1 L1138.57,590.62 L1140.19,591.14 L1141.8,591.65 L1143.42,592.17 L1145.02,592.69 L1146.62,593.21 L1148.22,593.72 L1149.81,594.24 L1151.39,594.75 L1152.97,595.27 L1154.55,595.78 L1156.12,596.29 L1157.68,596.8 L1159.24,597.32 L1160.79,597.83 L1162.34,598.34 L1163.88,598.85 L1165.42,599.35 L1166.95,599.86 L1168.48,600.37 L1170,600.88 L1171.52,601.38 L1173.03,601.89 L1174.54,602.39 L1176.04,602.9 L1177.54,603.4 L1179.03,603.9 L1180.52,604.41 L1182,604.91 L1183.47,605.41 L1184.94,605.91 L1186.41,606.41 L1187.87,606.91 L1189.32,607.41 L1190.77,607.91 L1192.22,608.4 L1193.66,608.9 L1195.09,609.4 L1196.52,609.89 L1197.94,610.39 L1199.36,610.88 L1200.77,611.37 L1202.18,611.87 L1203.58,612.36 L1204.98,612.85 L1206.37,613.34 L1207.76,613.83 L1209.14,614.32 L1210.52,614.81 L1211.89,615.3 L1213.26,615.78 L1214.62,616.27 L1215.97,616.76 L1217.33,617.24 L1218.67,617.73 L1220.01,618.21 L1221.35,618.7 L1222.68,619.18 L1224,619.66 L1225.32,620.14 L1226.63,620.62 L1227.94,621.1 L1229.25,621.58 L1230.55,622.06 L1231.84,622.54 L1233.13,623.02 L1234.41,623.5 L1235.69,623.97 L1236.96,624.45 L1238.23,624.93 L1239.49,625.4 L1240.75,625.87 L1242,626.35 L1243.25,626.82 L1244.49,627.29 L1245.72,627.76 L1246.95,628.23 L1248.18,628.71 L1249.4,629.17 L1250.62,629.64 L1251.83,630.11 L1253.03,630.58 L1254.23,631.05 L1255.42,631.51 L1256.61,631.98 L1257.8,632.44 L1258.98,632.91 L1260.15,633.37 L1261.32,633.83 L1262.48,634.3 L1263.64,634.76 L1264.79,635.22 L1265.94,635.68 L1267.08,636.14 L1268.22,636.6 L1269.35,637.06 L1270.48,637.52 L1271.6,637.97 L1272.72,638.43 L1273.83,638.89 L1274.94,639.34 L1276.04,639.8 L1277.13,640.25 L1278.22,640.7 L1279.31,641.16 L1280.39,641.61 L1281.46,642.06 L1282.53,642.51 L1283.6,642.96 L1284.66,643.41 L1285.71,643.86 L1286.76,644.31 L1287.8,644.76 L1288.84,645.2 L1289.87,645.65 L1290.9,646.1 L1291.92,646.54 L1292.94,646.98 L1293.95,647.43 L1294.96,647.87 L1295.96,648.31 L1296.96,648.76 L1297.95,649.2 L1298.94,649.64 L1299.92,650.08 L1300.89,650.52 L1301.87,650.96 L1302.83,651.39 L1303.79,651.83 L1304.75,652.27 L1305.7,652.7 L1306.64,653.14 L1307.58,653.57 L1308.51,654.01 L1309.44,654.44 L1310.37,654.87 L1311.29,655.31 L1312.2,655.74 L1313.11,656.17 L1314.01,656.6 L1314.91,657.03 L1315.8,657.46 L1316.69,657.89 L1317.57,658.31 L1318.45,658.74 L1319.32,659.17 L1320.19,659.59 L1321.05,660.02 L1321.9,660.44 L1322.76,660.87 L1323.6,661.29 L1324.44,661.71 L1325.28,662.13 L1326.11,662.56 L1326.93,662.98 L1327.75,663.4 L1328.57,663.82 L1329.38,664.23 L1330.18,664.65 L1330.98,665.07 L1331.77,665.49 L1332.56,665.9 L1333.34,666.32 L1334.12,666.73 L1334.9,667.15 L1335.66,667.56 L1336.43,667.97 L1337.18,668.39 L1337.94,668.8 L1338.68,669.21 L1339.42,669.62 L1340.16,670.03 L1340.89,670.44 L1341.62,670.85 L1342.34,671.25 L1343.05,671.66 L1343.77,672.07 L1344.47,672.47 L1345.17,672.88 L1345.87,673.28 L1346.55,673.69 L1347.24,674.09 L1347.92,674.49 L1348.59,674.89 L1349.26,675.3 L1349.93,675.7 L1350.58,676.1 L1351.24,676.5 L1351.88,676.89 L1352.53,677.29 L1353.17,677.69 L1353.8,678.09 L1354.42,678.48 L1355.05,678.88 L1355.66,679.27 L1356.28,679.67 L1356.88,680.06 L1357.48,680.45 L1358.08,680.85 L1358.67,681.24 L1359.25,681.63 L1359.84,682.02 L1360.41,682.41 L1360.98,682.8 L1361.55,683.19 L1362.1,683.57 L1362.66,683.96 L1363.21,684.35 L1363.75,684.73 L1364.29,685.12 L1364.82,685.5 L1365.35,685.89 L1365.88,686.27 L1366.39,686.65 L1366.91,687.04 L1367.41,687.42 L1367.92,687.8 L1368.41,688.18 L1368.9,688.56 L1369.39,688.94 L1369.87,689.31 L1370.35,689.69 L1370.82,690.07 L1371.29,690.45 L1371.75,690.82 L1372.2,691.2 L1372.65,691.57 L1373.1,691.94 L1373.54,692.32 L1373.97,692.69 L1374.4,693.06 L1374.83,693.43 L1375.24,693.8 L1375.66,694.17 L1376.07,694.54 L1376.47,694.91 L1376.87,695.28 L1377.26,695.64 L1377.65,696.01 L1378.03,696.38 L1378.41,696.74 L1378.78,697.11 L1379.15,697.47 L1379.51,697.83 L1379.87,698.2 L1380.22,698.56 L1380.56,698.92 L1380.9,699.28 L1381.24,699.64 L1381.57,700 L1381.9,700.36 L1382.22,700.72 L1382.53,701.08 L1382.84,701.43 L1383.15,701.79 L1383.44,702.14 L1383.74,702.5 L1384.03,702.85 L1384.31,703.21 L1384.59,703.56 L1384.86,703.91 L1385.13,704.26 L1385.39,704.62 L1385.65,704.97 L1385.9,705.32 L1386.15,705.66 L1386.39,706.01 L1386.63,706.36 L1386.86,706.71 L1387.09,707.06 L1387.31,707.4 L1387.53,707.75 L1387.74,708.09 L1387.94,708.44 L1388.14,708.78 L1388.34,709.12 L1388.53,709.46 L1388.71,709.8 L1388.89,710.15 L1389.07,710.49 L1389.24,710.83 L1389.4,711.16 L1389.56,711.5 L1389.71,711.84 L1389.86,712.18 L1390,712.51 L1390.14,712.85 L1390.27,713.18 L1390.4,713.52 L1390.52,713.85 L1390.64,714.18 L1390.75,714.52 L1390.86,714.85 L1390.96,715.18 L1391.06,715.51 L1391.15,715.84 L1391.23,716.17 L1391.31,716.5 L1391.39,716.83 L1391.46,717.15 L1391.53,717.48 L1391.59,717.81 L1391.64,718.13 L1391.69,718.46 L1391.73,718.78 L1391.77,719.1 L1391.81,719.43 L1391.83,719.75 L1391.86,720.07 L1391.88,720.39 L1391.89,720.71 L1391.9,721.03 L1391.9,721.35" stroke="#000"/>
</g>
<rect x="754" y="13" width="1" height="787" fill="#000"/>
<rect x="116" y="785" width="1" height="15" fill="#000"/>
<rect x="180" y="791" width="1" height="9" fill="#000"/>
<rect x="244" y="791" width="1" height="9" fill="#000"/>
<rect x="308" y="791" width="1" height="9" fill="#000"/>
<rect x="371" y="791" width="1" height="9" fill="#000"/>
<rect x="435" y="785" width="1" height="15" fill="#000"/>
<rect x="499" y="791" width="1" height="9" fill="#000"/>
<rect x="563" y="791" width="1" height="9" fill="#000"/>
<rect x="626" y="791" width="1" height="9" fill="#000"/>
<rect x="690" y="791" width="1" height="9" fill="#000"/>
<rect x="754" y="785" width="1" height="15" fill="#000"/>
<rect x="818" y="791" width="1" height="9" fill="#000"/>
<rect x="881" y="791" width="1" height="9" fill="#000"/>
<rect x="945" y="791" width="1" height="9" fill="#000"/>
<rect x="1009" y="791" width="1" height="9" fill="#000"/>
<rect x="1073" y="785" width="1" height="15" fill="#000"/>
<rect x="1136" y="791" width="1" height="9" fill="#000"/>
<rect x="1200" y="791" width="1" height="9" fill="#000"/>
<rect x="1264" y="791" width="1" height="9" fill="#000"/>
<rect x="1328" y="791" width="1" height="9" fill="#000"/>
<rect x="1391" y="785" width="1" height="15" fill="#000"/>
<rect x="117" y="12" width="15" height="1" fill="#000"/>
<rect x="117" y="169" width="15" height="1" fill="#000"/>
<rect x="117" y="327" width="15" height="1" fill="#000"/>
<rect x="117" y="485" width="15" height="1" fill="#000"/>
<rect x="117" y="642" width="15" height="1" fill="#000"/>
<rect x="117" y="800" width="15" height="1" fill="#000"/>
<rect x="116" y="12" width="1276" height="1" fill="#000"/>
<rect x="116" y="800" width="1276" height="1" fill="#000"/>
<rect x="116" y="12" width="1" height="789" fill="#000"/>
<rect x="1391" y="12" width="1" height="789" fill="#000"/>
<text transform="translate(94.30,809.40) scale(1,1.04)" font-size="25">0</text>
<text transform="translate(94.30,650.80) scale(1,1.04)" font-size="25">2</text>
<text transform="translate(94.30,494.00) scale(1,1.04)" font-size="25">4</text>
<text transform="translate(94.30,336.30) scale(1,1.04)" font-size="25">6</text>
<text transform="translate(94.30,178.60) scale(1,1.04)" font-size="25">8</text>
<path d="M763,0 L583,0 L583,1147 Q518,1085 412,1023 Q295,960 200,938 L200,1088 Q360,1165 486,1276 Q599,1377 646,1466 L763,1466 Z" transform="translate(80.39,20.90) scale(0.01221,-0.01221)"/>
<text transform="translate(94.30,20.90) scale(1,1.04)" font-size="25">0</text>
<rect x="93.27" y="824.30" width="11.5" height="2.1"/>
<path d="M763,0 L583,0 L583,1147 Q518,1085 412,1023 Q295,960 200,938 L200,1088 Q360,1165 486,1276 Q599,1377 646,1466 L763,1466 Z" transform="translate(106.67,831.80) scale(0.01221,-0.01221)"/>
<rect x="122.88" y="829.70" width="2.4" height="2.1"/>
<text transform="translate(127.52,831.80) scale(1,1.04)" font-size="25">0</text>
<rect x="412.07" y="824.30" width="11.5" height="2.1"/>
<text transform="translate(425.47,831.80) scale(1,1.04)" font-size="25">0</text>
<rect x="441.68" y="829.70" width="2.4" height="2.1"/>
<text transform="translate(446.32,831.80) scale(1,1.04)" font-size="25">5</text>
<text transform="translate(736.97,831.80) scale(1,1.04)" font-size="25">0</text>
<rect x="753.18" y="829.70" width="2.4" height="2.1"/>
<text transform="translate(757.82,831.80) scale(1,1.04)" font-size="25">0</text>
<text transform="translate(1055.77,831.80) scale(1,1.04)" font-size="25">0</text>
<rect x="1071.98" y="829.70" width="2.4" height="2.1"/>
<text transform="translate(1076.62,831.80) scale(1,1.04)" font-size="25">5</text>
<path d="M763,0 L583,0 L583,1147 Q518,1085 412,1023 Q295,960 200,938 L200,1088 Q360,1165 486,1276 Q599,1377 646,1466 L763,1466 Z" transform="translate(1374.57,831.80) scale(0.01221,-0.01221)"/>
<rect x="1390.78" y="829.70" width="2.4" height="2.1"/>
<text transform="translate(1395.42,831.80) scale(1,1.04)" font-size="25">0</text>
<rect x="195" y="450" width="58" height="7" fill="#ff0000"/>
<text transform="translate(267.70,464) scale(1,1.03)" font-size="28.3">L</text>
<rect x="284.6" y="452.75" width="14" height="2"/>
<rect x="284.6" y="458.75" width="14" height="2"/>
<text transform="translate(299.47,464) scale(1,1.03)" font-size="28.3">4</text>
<rect x="317.80" y="461.9" width="2.4" height="2.1"/>
<text transform="translate(323.07,464) scale(1,1.03)" font-size="28.3">8</text>
<text transform="translate(338.81,464) scale(1,1.03)" font-size="28.3">M</text>
<text transform="translate(362.38,468.7) scale(1,1.03)" font-size="20">B</text>
<rect x="195" y="504" width="58" height="7" fill="#0000ff"/>
<text transform="translate(267.70,518) scale(1,1.03)" font-size="28.3">L</text>
<rect x="284.6" y="506.75" width="14" height="2"/>
<rect x="284.6" y="512.75" width="14" height="2"/>
<text transform="translate(299.47,518) scale(1,1.03)" font-size="28.3">4</text>
<rect x="317.80" y="515.9" width="2.4" height="2.1"/>
<text transform="translate(323.07,518) scale(1,1.03)" font-size="28.3">5</text>
<text transform="translate(338.81,518) scale(1,1.03)" font-size="28.3">M</text>
<text transform="translate(362.38,522.7) scale(1,1.03)" font-size="20">B</text>
<rect x="195" y="558" width="58" height="7" fill="#00ff00"/>
<text transform="translate(267.70,572) scale(1,1.03)" font-size="28.3">L</text>
<rect x="284.6" y="560.75" width="14" height="2"/>
<rect x="284.6" y="566.75" width="14" height="2"/>
<text transform="translate(299.47,572) scale(1,1.03)" font-size="28.3">4</text>
<rect x="317.80" y="569.9" width="2.4" height="2.1"/>
<text transform="translate(323.07,572) scale(1,1.03)" font-size="28.3">0</text>
<text transform="translate(338.81,572) scale(1,1.03)" font-size="28.3">M</text>
<text transform="translate(362.38,576.7) scale(1,1.03)" font-size="20">B</text>
<rect x="195" y="612" width="58" height="7" fill="#808080"/>
<text transform="translate(267.70,626) scale(1,1.03)" font-size="28.3">L</text>
<rect x="284.6" y="614.75" width="14" height="2"/>
<rect x="284.6" y="620.75" width="14" height="2"/>
<text transform="translate(299.47,626) scale(1,1.03)" font-size="28.3">3</text>
<rect x="317.80" y="623.9" width="2.4" height="2.1"/>
<text transform="translate(323.07,626) scale(1,1.03)" font-size="28.3">5</text>
<text transform="translate(338.81,626) scale(1,1.03)" font-size="28.3">M</text>
<text transform="translate(362.38,630.7) scale(1,1.03)" font-size="20">B</text>
<rect x="195" y="666" width="58" height="7" fill="#ff8000"/>
<text transform="translate(267.70,680) scale(1,1.03)" font-size="28.3">L</text>
<rect x="284.6" y="668.75" width="14" height="2"/>
<rect x="284.6" y="674.75" width="14" height="2"/>
<text transform="translate(299.47,680) scale(1,1.03)" font-size="28.3">3</text>
<rect x="317.80" y="677.9" width="2.4" height="2.1"/>
<text transform="translate(323.07,680) scale(1,1.03)" font-size="28.3">0</text>
<text transform="translate(338.81,680) scale(1,1.03)" font-size="28.3">M</text>
<text transform="translate(362.38,684.7) scale(1,1.03)" font-size="20">B</text>
<rect x="195" y="720" width="58" height="7" fill="#800080"/>
<text transform="translate(267.70,734) scale(1,1.03)" font-size="28.3">L</text>
<rect x="284.6" y="722.75" width="14" height="2"/>
<rect x="284.6" y="728.75" width="14" height="2"/>
<text transform="translate(299.47,734) scale(1,1.03)" font-size="28.3">2</text>
<rect x="317.80" y="731.9" width="2.4" height="2.1"/>
<text transform="translate(323.07,734) scale(1,1.03)" font-size="28.3">5</text>
<text transform="translate(338.81,734) scale(1,1.03)" font-size="28.3">M</text>
<text transform="translate(362.38,738.7) scale(1,1.03)" font-size="20">B</text>
<text transform="translate(696.7,897.8) scale(0.96)" font-size="46" font-style="italic">a</text>
<text transform="translate(721.3,897.8) scale(0.89,1)" font-size="46">(</text>
<text x="736.4" y="897.8" font-size="46" font-style="italic">M</text>
<text x="775.4" y="905.8" font-size="33" font-style="italic">B</text>
<text transform="translate(799.26,897.8) scale(0.89,1)" font-size="46">)</text>
<g transform="translate(39.9,470.8) rotate(-90)">
<text transform="scale(1.03,0.96)" font-size="46" font-style="italic">r</text>
<text transform="translate(19.0,8.5) scale(1,0.92)" font-size="33" font-style="italic">p</text>
<text transform="translate(38.46,0) scale(0.82,1)" font-size="46">(</text>
<text x="54.3" y="0" font-size="46" font-style="italic">M</text>
<text x="92.6" y="8.5" font-size="33" font-style="italic">B</text>
<text transform="translate(117.1,0) scale(0.82,1)" font-size="46">)</text>
</g>
</svg>
<div id="edge"></div>
</body></html>
